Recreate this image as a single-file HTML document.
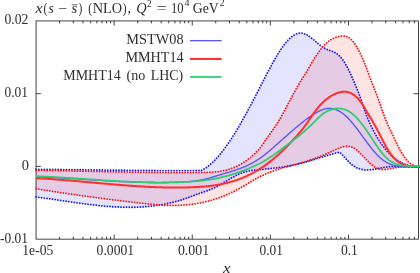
<!DOCTYPE html>
<html><head><meta charset="utf-8"><title>plot</title>
<style>
html,body{margin:0;padding:0;background:#fff;}
body{width:420px;height:273px;overflow:hidden;}
svg{display:block;}
text{font-family:"Liberation Serif",serif;font-size:14px;fill:#2e2e2e;}
</style></head><body>
<svg width="420" height="273" viewBox="0 0 420 273">
<rect x="0" y="0" width="420" height="273" fill="#ffffff"/>
<path d="M36.10,169.30 L37.10,169.31 L38.10,169.31 L39.10,169.32 L40.10,169.33 L41.10,169.34 L42.10,169.34 L43.10,169.35 L44.10,169.36 L45.10,169.37 L46.10,169.38 L47.10,169.39 L48.10,169.39 L49.10,169.40 L50.10,169.41 L51.10,169.42 L52.10,169.43 L53.10,169.44 L54.10,169.45 L55.10,169.46 L56.10,169.47 L57.10,169.48 L58.10,169.49 L59.10,169.50 L60.10,169.51 L61.10,169.52 L62.10,169.53 L63.10,169.55 L64.10,169.56 L65.10,169.57 L66.10,169.58 L67.10,169.59 L68.10,169.60 L69.10,169.61 L70.10,169.63 L71.10,169.64 L72.10,169.65 L73.10,169.66 L74.10,169.67 L75.10,169.69 L76.10,169.70 L77.10,169.71 L78.10,169.72 L79.10,169.73 L80.10,169.75 L81.10,169.76 L82.10,169.77 L83.10,169.78 L84.10,169.80 L85.10,169.81 L86.10,169.82 L87.10,169.83 L88.10,169.85 L89.10,169.86 L90.10,169.87 L91.10,169.88 L92.10,169.90 L93.10,169.91 L94.10,169.92 L95.10,169.93 L96.10,169.95 L97.10,169.96 L98.10,169.97 L99.10,169.99 L100.10,170.00 L101.10,170.01 L102.10,170.02 L103.10,170.04 L104.10,170.05 L105.10,170.06 L106.10,170.07 L107.10,170.09 L108.10,170.10 L109.10,170.11 L110.10,170.12 L111.10,170.13 L112.10,170.15 L113.10,170.16 L114.10,170.17 L115.10,170.18 L116.10,170.19 L117.10,170.20 L118.10,170.22 L119.10,170.23 L120.10,170.24 L121.10,170.25 L122.10,170.26 L123.10,170.27 L124.10,170.28 L125.10,170.29 L126.10,170.31 L127.10,170.32 L128.10,170.33 L129.10,170.34 L130.10,170.35 L131.10,170.36 L132.10,170.37 L133.10,170.38 L134.10,170.39 L135.10,170.40 L136.10,170.40 L137.10,170.41 L138.10,170.42 L139.10,170.43 L140.10,170.44 L141.10,170.45 L142.10,170.46 L143.10,170.47 L144.10,170.47 L145.10,170.48 L146.10,170.49 L147.10,170.50 L148.10,170.50 L149.10,170.51 L150.10,170.52 L151.10,170.52 L152.10,170.53 L153.10,170.54 L154.10,170.54 L155.10,170.55 L156.10,170.55 L157.10,170.56 L158.10,170.56 L159.10,170.57 L160.10,170.57 L161.10,170.58 L162.10,170.58 L163.10,170.58 L164.10,170.59 L165.10,170.59 L166.10,170.59 L167.10,170.60 L168.10,170.60 L169.10,170.60 L170.10,170.60 L171.10,170.60 L172.10,170.61 L173.10,170.61 L174.10,170.61 L175.10,170.61 L176.10,170.61 L177.10,170.61 L178.10,170.61 L179.10,170.61 L180.10,170.61 L181.10,170.60 L182.10,170.60 L183.10,170.60 L184.10,170.60 L185.10,170.59 L186.10,170.59 L187.10,170.59 L188.10,170.58 L189.10,170.58 L190.10,170.58 L191.10,170.57 L192.10,170.57 L193.10,170.56 L194.10,170.55 L195.10,170.55 L196.10,170.54 L197.10,170.53 L198.10,170.53 L199.10,170.52 L200.10,170.51 L201.10,170.50 L201.30,170.50 L202.30,169.99 L203.30,169.43 L204.30,168.83 L205.30,168.18 L206.30,167.50 L207.30,166.78 L208.30,166.02 L209.30,165.21 L210.30,164.37 L211.30,163.50 L212.30,162.58 L213.30,161.63 L214.30,160.64 L215.30,159.62 L216.30,158.56 L217.30,157.46 L218.30,156.34 L219.30,155.18 L220.30,153.98 L221.30,152.76 L222.30,151.50 L223.30,150.21 L224.30,148.89 L225.30,147.54 L226.30,146.16 L227.30,144.75 L228.30,143.32 L229.30,141.85 L230.30,140.36 L231.30,138.84 L232.30,137.30 L233.30,135.73 L234.30,134.13 L235.30,132.52 L236.30,130.87 L237.30,129.21 L238.30,127.52 L239.30,125.81 L240.30,124.08 L241.30,122.33 L242.30,120.56 L243.30,118.77 L244.30,116.97 L245.30,115.15 L246.30,113.32 L247.30,111.47 L248.30,109.61 L249.30,107.73 L250.30,105.85 L251.30,103.96 L252.30,102.05 L253.30,100.14 L254.30,98.22 L255.30,96.29 L256.30,94.36 L257.30,92.43 L258.30,90.49 L259.30,88.55 L260.30,86.60 L261.30,84.66 L262.30,82.71 L263.30,80.77 L264.30,78.83 L265.30,76.89 L266.30,74.96 L267.30,73.04 L268.30,71.13 L269.30,69.23 L270.30,67.35 L271.30,65.49 L272.30,63.66 L273.30,61.85 L274.30,60.08 L275.30,58.33 L276.30,56.62 L277.30,54.95 L278.30,53.32 L279.30,51.74 L280.30,50.20 L281.30,48.71 L282.30,47.28 L283.30,45.89 L284.30,44.57 L285.30,43.31 L286.30,42.10 L287.30,40.97 L288.30,39.90 L289.30,38.89 L290.30,37.96 L291.30,37.10 L292.30,36.32 L293.30,35.62 L294.30,35.00 L295.30,34.46 L296.30,34.01 L297.30,33.64 L298.30,33.36 L299.30,33.18 L300.30,33.09 L301.30,33.10 L302.30,33.21 L303.30,33.42 L304.30,33.72 L305.30,34.11 L306.30,34.58 L307.30,35.12 L308.30,35.73 L309.30,36.39 L310.30,37.11 L311.30,37.86 L312.30,38.65 L313.30,39.47 L314.30,40.30 L315.30,41.15 L316.30,42.00 L317.30,42.85 L318.30,43.69 L319.30,44.51 L320.30,45.31 L321.30,46.07 L322.30,46.79 L323.30,47.47 L324.30,48.09 L325.30,48.64 L326.30,49.13 L327.30,49.56 L328.30,49.96 L329.30,50.32 L330.30,50.67 L331.30,51.03 L332.30,51.40 L333.30,51.81 L334.30,52.26 L335.30,52.77 L336.30,53.36 L337.30,54.03 L338.30,54.82 L339.30,55.72 L340.30,56.75 L341.30,57.91 L342.30,59.20 L343.30,60.61 L344.30,62.13 L345.30,63.76 L346.30,65.50 L347.30,67.33 L348.30,69.26 L349.30,71.27 L350.30,73.36 L351.30,75.52 L352.30,77.73 L353.30,80.00 L354.30,82.31 L355.30,84.66 L356.30,87.05 L357.30,89.51 L358.30,92.05 L359.30,94.71 L360.30,97.49 L361.30,100.39 L362.30,103.37 L363.30,106.36 L364.30,109.29 L365.30,112.13 L366.30,114.81 L367.30,117.37 L368.30,119.79 L369.30,122.10 L370.30,124.30 L371.30,126.40 L372.30,128.41 L373.30,130.35 L374.30,132.21 L375.30,134.02 L376.30,135.76 L377.30,137.45 L378.30,139.08 L379.30,140.66 L380.30,142.18 L381.30,143.64 L382.30,145.05 L383.30,146.41 L384.30,147.72 L385.30,148.97 L386.30,150.18 L387.30,151.33 L388.30,152.43 L389.30,153.49 L390.30,154.49 L391.30,155.45 L392.30,156.36 L393.30,157.23 L394.30,158.05 L395.30,158.83 L396.30,159.56 L397.30,160.26 L398.30,160.91 L399.30,161.52 L400.30,162.09 L401.30,162.62 L402.30,163.11 L403.30,163.57 L404.30,163.99 L405.30,164.38 L406.30,164.73 L407.30,165.05 L408.30,165.34 L409.30,165.60 L410.30,165.82 L411.30,166.02 L412.30,166.19 L413.30,166.33 L414.30,166.44 L415.30,166.53 L416.30,166.60 L417.30,166.64 L418.30,166.66 L419.30,166.65 L420.30,166.63 L421.00,166.60 L421.00,166.60 L420.50,166.65 L419.50,166.74 L418.50,166.82 L417.50,166.87 L416.50,166.92 L415.50,166.95 L414.50,166.97 L413.50,166.98 L412.50,166.98 L411.50,166.97 L410.50,166.95 L409.50,166.93 L408.50,166.90 L407.50,166.87 L406.50,166.83 L405.50,166.79 L404.50,166.75 L403.50,166.71 L402.50,166.67 L401.50,166.63 L400.50,166.60 L399.50,166.57 L398.50,166.55 L397.50,166.53 L396.50,166.52 L395.50,166.52 L394.50,166.53 L393.50,166.55 L392.50,166.58 L391.50,166.62 L390.50,166.68 L389.50,166.75 L388.50,166.84 L387.50,166.95 L386.50,167.08 L385.50,167.22 L384.50,167.38 L383.50,167.55 L382.50,167.73 L381.50,167.93 L380.50,168.12 L379.50,168.32 L378.50,168.52 L377.50,168.71 L376.50,168.90 L375.50,169.08 L374.50,169.25 L373.50,169.41 L372.50,169.56 L371.50,169.68 L370.50,169.79 L369.50,169.87 L368.50,169.92 L367.50,169.95 L366.50,169.94 L365.50,169.90 L364.50,169.83 L363.50,169.71 L362.50,169.56 L361.50,169.36 L360.50,169.11 L359.50,168.82 L358.50,168.47 L357.50,168.07 L356.50,167.61 L355.50,167.10 L354.50,166.53 L353.50,165.89 L352.50,165.19 L351.50,164.42 L350.50,163.58 L349.50,162.67 L348.50,161.69 L347.50,160.64 L346.50,159.55 L345.50,158.44 L344.50,157.31 L343.50,156.20 L342.50,155.11 L341.50,154.07 L340.50,153.09 L339.50,152.20 L339.10,152.30 L338.10,152.54 L337.10,152.79 L336.10,153.05 L335.10,153.31 L334.10,153.58 L333.10,153.86 L332.10,154.13 L331.10,154.42 L330.10,154.70 L329.10,154.99 L328.10,155.29 L327.10,155.58 L326.10,155.88 L325.10,156.18 L324.10,156.49 L323.10,156.79 L322.10,157.10 L321.10,157.41 L320.10,157.72 L319.10,158.02 L318.10,158.33 L317.10,158.64 L316.10,158.95 L315.10,159.26 L314.10,159.57 L313.10,159.87 L312.10,160.18 L311.10,160.48 L310.10,160.78 L309.10,161.07 L308.10,161.37 L307.10,161.66 L306.10,161.94 L305.10,162.22 L304.10,162.50 L303.10,162.77 L302.10,163.04 L301.10,163.31 L300.10,163.56 L299.10,163.82 L298.10,164.06 L297.10,164.30 L296.10,164.53 L295.10,164.76 L294.10,164.97 L293.10,165.18 L292.10,165.39 L291.10,165.58 L290.10,165.77 L289.10,165.96 L288.10,166.13 L287.10,166.31 L286.10,166.47 L285.10,166.63 L284.10,166.79 L283.10,166.94 L282.10,167.09 L281.10,167.23 L280.10,167.37 L279.10,167.50 L278.10,167.63 L277.10,167.76 L276.10,167.88 L275.10,168.00 L274.10,168.12 L273.10,168.24 L272.10,168.35 L271.10,168.46 L270.10,168.57 L269.10,168.68 L268.10,168.78 L267.10,168.89 L266.10,168.99 L265.10,169.09 L264.10,169.20 L263.10,169.30 L262.10,169.40 L261.10,169.51 L260.10,169.61 L259.10,169.71 L258.10,169.82 L257.10,169.93 L256.10,170.03 L255.10,170.14 L254.10,170.26 L253.10,170.37 L252.10,170.50 L251.10,170.64 L250.10,170.79 L249.10,170.96 L248.10,171.15 L247.10,171.36 L246.10,171.60 L245.10,171.86 L244.10,172.14 L243.10,172.46 L242.10,172.81 L241.10,173.19 L240.10,173.59 L239.10,174.03 L238.10,174.50 L237.10,174.98 L236.10,175.50 L235.10,176.02 L234.10,176.57 L233.10,177.13 L232.10,177.70 L231.10,178.28 L230.10,178.86 L229.10,179.45 L228.10,180.05 L227.10,180.64 L226.10,181.23 L225.10,181.82 L224.10,182.41 L223.10,183.00 L222.10,183.58 L221.10,184.15 L220.10,184.72 L219.10,185.28 L218.10,185.82 L217.10,186.36 L216.10,186.88 L215.10,187.38 L214.10,187.87 L213.10,188.34 L212.10,188.79 L211.10,189.23 L210.10,189.64 L209.10,190.03 L208.10,190.41 L207.10,190.77 L206.10,191.12 L205.10,191.47 L204.10,191.81 L203.10,192.15 L202.10,192.49 L201.10,192.84 L200.10,193.20 L199.10,193.55 L198.10,193.92 L197.10,194.29 L196.10,194.66 L195.10,195.03 L194.10,195.41 L193.10,195.78 L192.10,196.16 L191.10,196.53 L190.10,196.91 L189.10,197.27 L188.10,197.64 L187.10,198.00 L186.10,198.35 L185.10,198.70 L184.10,199.03 L183.10,199.36 L182.10,199.69 L181.10,200.00 L180.10,200.31 L179.10,200.61 L178.10,200.90 L177.10,201.19 L176.10,201.46 L175.10,201.73 L174.10,202.00 L173.10,202.25 L172.10,202.50 L171.10,202.74 L170.10,202.97 L169.10,203.20 L168.10,203.42 L167.10,203.63 L166.10,203.84 L165.10,204.04 L164.10,204.23 L163.10,204.42 L162.10,204.60 L161.10,204.77 L160.10,204.94 L159.10,205.10 L158.10,205.25 L157.10,205.40 L156.10,205.54 L155.10,205.68 L154.10,205.81 L153.10,205.93 L152.10,206.05 L151.10,206.16 L150.10,206.27 L149.10,206.37 L148.10,206.47 L147.10,206.56 L146.10,206.64 L145.10,206.72 L144.10,206.79 L143.10,206.86 L142.10,206.92 L141.10,206.98 L140.10,207.03 L139.10,207.08 L138.10,207.12 L137.10,207.16 L136.10,207.19 L135.10,207.22 L134.10,207.24 L133.10,207.26 L132.10,207.28 L131.10,207.28 L130.10,207.29 L129.10,207.29 L128.10,207.29 L127.10,207.28 L126.10,207.27 L125.10,207.25 L124.10,207.23 L123.10,207.20 L122.10,207.17 L121.10,207.14 L120.10,207.11 L119.10,207.07 L118.10,207.02 L117.10,206.97 L116.10,206.92 L115.10,206.87 L114.10,206.81 L113.10,206.75 L112.10,206.69 L111.10,206.62 L110.10,206.55 L109.10,206.47 L108.10,206.40 L107.10,206.32 L106.10,206.23 L105.10,206.15 L104.10,206.06 L103.10,205.97 L102.10,205.87 L101.10,205.77 L100.10,205.68 L99.10,205.57 L98.10,205.47 L97.10,205.36 L96.10,205.25 L95.10,205.14 L94.10,205.03 L93.10,204.92 L92.10,204.80 L91.10,204.68 L90.10,204.56 L89.10,204.43 L88.10,204.31 L87.10,204.18 L86.10,204.06 L85.10,203.93 L84.10,203.80 L83.10,203.66 L82.10,203.53 L81.10,203.39 L80.10,203.26 L79.10,203.12 L78.10,202.98 L77.10,202.84 L76.10,202.70 L75.10,202.56 L74.10,202.42 L73.10,202.27 L72.10,202.13 L71.10,201.98 L70.10,201.84 L69.10,201.69 L68.10,201.55 L67.10,201.40 L66.10,201.25 L65.10,201.11 L64.10,200.96 L63.10,200.81 L62.10,200.66 L61.10,200.51 L60.10,200.37 L59.10,200.22 L58.10,200.07 L57.10,199.92 L56.10,199.78 L55.10,199.63 L54.10,199.48 L53.10,199.34 L52.10,199.19 L51.10,199.05 L50.10,198.91 L49.10,198.76 L48.10,198.62 L47.10,198.48 L46.10,198.34 L45.10,198.20 L44.10,198.06 L43.10,197.92 L42.10,197.79 L41.10,197.65 L40.10,197.52 L39.10,197.39 L38.10,197.26 L37.10,197.13 L36.10,197.00 Z" fill="#0000ff" fill-opacity="0.105" stroke="none"/>
<path d="M36.10,170.30 L37.10,170.31 L38.10,170.32 L39.10,170.34 L40.10,170.35 L41.10,170.36 L42.10,170.38 L43.10,170.39 L44.10,170.40 L45.10,170.42 L46.10,170.43 L47.10,170.45 L48.10,170.46 L49.10,170.48 L50.10,170.49 L51.10,170.51 L52.10,170.53 L53.10,170.54 L54.10,170.56 L55.10,170.58 L56.10,170.59 L57.10,170.61 L58.10,170.63 L59.10,170.65 L60.10,170.67 L61.10,170.69 L62.10,170.70 L63.10,170.72 L64.10,170.74 L65.10,170.76 L66.10,170.78 L67.10,170.80 L68.10,170.82 L69.10,170.84 L70.10,170.86 L71.10,170.88 L72.10,170.90 L73.10,170.92 L74.10,170.94 L75.10,170.97 L76.10,170.99 L77.10,171.01 L78.10,171.03 L79.10,171.05 L80.10,171.07 L81.10,171.09 L82.10,171.12 L83.10,171.14 L84.10,171.16 L85.10,171.18 L86.10,171.20 L87.10,171.23 L88.10,171.25 L89.10,171.27 L90.10,171.29 L91.10,171.32 L92.10,171.34 L93.10,171.36 L94.10,171.38 L95.10,171.40 L96.10,171.43 L97.10,171.45 L98.10,171.47 L99.10,171.49 L100.10,171.52 L101.10,171.54 L102.10,171.56 L103.10,171.58 L104.10,171.60 L105.10,171.63 L106.10,171.65 L107.10,171.67 L108.10,171.69 L109.10,171.71 L110.10,171.74 L111.10,171.76 L112.10,171.78 L113.10,171.80 L114.10,171.82 L115.10,171.84 L116.10,171.86 L117.10,171.89 L118.10,171.91 L119.10,171.93 L120.10,171.95 L121.10,171.97 L122.10,171.99 L123.10,172.01 L124.10,172.03 L125.10,172.05 L126.10,172.07 L127.10,172.09 L128.10,172.10 L129.10,172.12 L130.10,172.14 L131.10,172.16 L132.10,172.18 L133.10,172.20 L134.10,172.21 L135.10,172.23 L136.10,172.25 L137.10,172.27 L138.10,172.28 L139.10,172.30 L140.10,172.32 L141.10,172.33 L142.10,172.35 L143.10,172.36 L144.10,172.38 L145.10,172.39 L146.10,172.41 L147.10,172.42 L148.10,172.43 L149.10,172.45 L150.10,172.46 L151.10,172.47 L152.10,172.49 L153.10,172.50 L154.10,172.51 L155.10,172.52 L156.10,172.53 L157.10,172.54 L158.10,172.55 L159.10,172.56 L160.10,172.57 L161.10,172.58 L162.10,172.59 L163.10,172.60 L164.10,172.60 L165.10,172.61 L166.10,172.62 L167.10,172.62 L168.10,172.63 L169.10,172.64 L170.10,172.64 L171.10,172.64 L172.10,172.65 L173.10,172.65 L174.10,172.66 L175.10,172.66 L176.10,172.66 L177.10,172.66 L178.10,172.66 L179.10,172.66 L180.10,172.66 L181.10,172.66 L182.10,172.66 L183.10,172.66 L184.10,172.66 L185.10,172.65 L186.10,172.65 L187.10,172.65 L188.10,172.64 L189.10,172.64 L190.10,172.63 L191.10,172.63 L192.10,172.62 L193.10,172.61 L194.10,172.60 L195.10,172.60 L196.10,172.59 L197.10,172.58 L198.10,172.57 L199.10,172.55 L200.10,172.54 L201.10,172.53 L202.10,172.52 L203.10,172.50 L204.10,172.48 L205.10,172.46 L206.10,172.43 L207.10,172.40 L208.10,172.37 L209.10,172.33 L210.10,172.28 L211.10,172.22 L212.10,172.16 L213.10,172.09 L214.10,172.01 L215.10,171.92 L216.10,171.82 L217.10,171.70 L218.10,171.58 L219.10,171.44 L220.10,171.30 L221.10,171.13 L222.10,170.96 L223.10,170.77 L224.10,170.56 L225.10,170.34 L226.10,170.10 L227.10,169.84 L228.10,169.56 L229.10,169.27 L230.10,168.96 L231.10,168.62 L232.10,168.27 L233.10,167.89 L234.10,167.49 L235.10,167.07 L236.10,166.63 L237.10,166.16 L238.10,165.67 L239.10,165.16 L240.10,164.61 L241.10,164.05 L242.10,163.45 L243.10,162.84 L244.10,162.19 L245.10,161.52 L246.10,160.82 L247.10,160.10 L248.10,159.35 L249.10,158.57 L250.10,157.76 L251.10,156.92 L252.10,156.06 L253.10,155.17 L254.10,154.25 L255.10,153.30 L256.10,152.32 L257.10,151.30 L258.10,150.23 L259.10,149.10 L260.10,147.90 L261.10,146.62 L262.10,145.25 L263.10,143.78 L264.10,142.28 L265.10,140.80 L266.10,139.34 L267.10,137.92 L268.10,136.51 L269.10,135.12 L270.10,133.74 L271.10,132.35 L272.10,130.95 L273.10,129.53 L274.10,128.09 L275.10,126.62 L276.10,125.10 L277.10,123.54 L278.10,121.93 L279.10,120.26 L280.10,118.56 L281.10,116.81 L282.10,115.03 L283.10,113.21 L284.10,111.37 L285.10,109.51 L286.10,107.64 L287.10,105.74 L288.10,103.84 L289.10,101.94 L290.10,100.04 L291.10,98.14 L292.10,96.26 L293.10,94.38 L294.10,92.53 L295.10,90.70 L296.10,88.89 L297.10,87.12 L298.10,85.39 L299.10,83.69 L300.10,82.04 L301.10,80.43 L302.10,78.84 L303.10,77.27 L304.10,75.70 L305.10,74.11 L306.10,72.50 L307.10,70.85 L308.10,69.15 L309.10,67.43 L310.10,65.70 L311.10,63.98 L312.10,62.30 L313.10,60.65 L314.10,59.04 L315.10,57.47 L316.10,55.93 L317.10,54.43 L318.10,52.97 L319.10,51.56 L320.10,50.20 L321.10,48.89 L322.10,47.64 L323.10,46.46 L324.10,45.34 L325.10,44.31 L326.10,43.34 L327.10,42.46 L328.10,41.64 L329.10,40.89 L330.10,40.21 L331.10,39.59 L332.10,39.02 L333.10,38.51 L334.10,38.06 L335.10,37.65 L336.10,37.29 L337.10,36.97 L338.10,36.68 L339.10,36.44 L340.10,36.23 L341.10,36.08 L342.10,35.98 L343.10,35.95 L344.10,36.01 L345.10,36.15 L346.10,36.38 L347.10,36.72 L348.10,37.18 L349.10,37.77 L350.10,38.48 L351.10,39.34 L352.10,40.34 L353.10,41.48 L354.10,42.75 L355.10,44.15 L356.10,45.68 L357.10,47.33 L358.10,49.11 L359.10,50.99 L360.10,52.99 L361.10,55.10 L362.10,57.31 L363.10,59.62 L364.10,62.03 L365.10,64.53 L366.10,67.11 L367.10,69.76 L368.10,72.45 L369.10,75.14 L370.10,77.81 L371.10,80.45 L372.10,83.02 L373.10,85.56 L374.10,88.07 L375.10,90.59 L376.10,93.14 L377.10,95.74 L378.10,98.41 L379.10,101.18 L380.10,104.03 L381.10,106.93 L382.10,109.84 L383.10,112.71 L384.10,115.50 L385.10,118.16 L386.10,120.66 L387.10,123.02 L388.10,125.25 L389.10,127.37 L390.10,129.44 L391.10,131.49 L392.10,133.56 L393.10,135.68 L394.10,137.83 L395.10,139.99 L396.10,142.13 L397.10,144.23 L398.10,146.26 L399.10,148.23 L400.10,150.11 L401.10,151.89 L402.10,153.58 L403.10,155.15 L404.10,156.62 L405.10,157.98 L406.10,159.23 L407.10,160.38 L408.10,161.44 L409.10,162.39 L410.10,163.24 L411.10,163.99 L412.10,164.65 L413.10,165.22 L414.10,165.70 L415.10,166.08 L416.10,166.38 L417.10,166.59 L418.10,166.71 L419.10,166.75 L420.10,166.71 L421.00,166.60 L421.00,166.60 L420.10,166.60 L419.10,166.59 L418.10,166.58 L417.10,166.57 L416.10,166.56 L415.10,166.56 L414.10,166.55 L413.10,166.55 L412.10,166.55 L411.10,166.56 L410.10,166.57 L409.10,166.58 L408.10,166.60 L407.10,166.63 L406.10,166.67 L405.10,166.72 L404.10,166.78 L403.10,166.84 L402.10,166.92 L401.10,167.01 L400.10,167.12 L399.10,167.23 L398.10,167.37 L397.10,167.51 L396.10,167.67 L395.10,167.84 L394.10,168.02 L393.10,168.21 L392.10,168.39 L391.10,168.58 L390.10,168.77 L389.10,168.94 L388.10,169.11 L387.10,169.26 L386.10,169.39 L385.10,169.48 L384.10,169.54 L383.10,169.55 L382.10,169.51 L381.10,169.42 L380.10,169.26 L379.10,169.03 L378.10,168.72 L377.10,168.32 L376.10,167.84 L375.10,167.27 L374.10,166.61 L373.10,165.88 L372.10,165.08 L371.10,164.22 L370.10,163.30 L369.10,162.35 L368.10,161.36 L367.10,160.34 L366.10,159.30 L365.10,158.25 L364.10,157.20 L363.10,156.15 L362.10,155.12 L361.10,154.10 L360.10,153.11 L359.10,152.16 L358.10,151.26 L357.10,150.40 L356.10,149.61 L355.10,148.88 L354.10,148.23 L353.10,147.67 L352.10,147.19 L351.10,146.82 L350.10,146.54 L349.10,146.36 L348.10,146.27 L347.10,146.25 L346.10,146.30 L345.10,146.42 L344.10,146.60 L343.10,146.84 L342.10,147.11 L341.10,147.43 L340.10,147.78 L339.10,148.16 L338.10,148.56 L337.10,148.98 L336.10,149.42 L335.10,149.87 L334.10,150.33 L333.10,150.79 L332.10,151.26 L331.10,151.72 L330.10,152.18 L329.10,152.63 L328.10,153.08 L327.10,153.52 L326.10,153.96 L325.10,154.39 L324.10,154.82 L323.10,155.24 L322.10,155.65 L321.10,156.06 L320.10,156.46 L319.10,156.86 L318.10,157.25 L317.10,157.63 L316.10,158.00 L315.10,158.37 L314.10,158.73 L313.10,159.08 L312.10,159.43 L311.10,159.76 L310.10,160.09 L309.10,160.42 L308.10,160.73 L307.10,161.04 L306.10,161.35 L305.10,161.65 L304.10,161.94 L303.10,162.24 L302.10,162.52 L301.10,162.81 L300.10,163.09 L299.10,163.37 L298.10,163.64 L297.10,163.92 L296.10,164.19 L295.10,164.46 L294.10,164.74 L293.10,165.01 L292.10,165.28 L291.10,165.55 L290.10,165.83 L289.10,166.10 L288.10,166.38 L287.10,166.66 L286.10,166.94 L285.10,167.23 L284.10,167.52 L283.10,167.81 L282.10,168.11 L281.10,168.41 L280.10,168.72 L279.10,169.03 L278.10,169.35 L277.10,169.67 L276.10,170.01 L275.10,170.35 L274.10,170.69 L273.10,171.05 L272.10,171.41 L271.10,171.79 L270.10,172.17 L269.10,172.56 L268.10,172.96 L267.10,173.37 L266.10,173.80 L265.10,174.23 L264.10,174.68 L263.10,175.13 L262.10,175.61 L261.10,176.09 L260.10,176.59 L259.10,177.10 L258.10,177.62 L257.10,178.16 L256.10,178.71 L255.10,179.28 L254.10,179.85 L253.10,180.44 L252.10,181.03 L251.10,181.62 L250.10,182.22 L249.10,182.83 L248.10,183.43 L247.10,184.03 L246.10,184.63 L245.10,185.23 L244.10,185.82 L243.10,186.40 L242.10,186.98 L241.10,187.55 L240.10,188.11 L239.10,188.66 L238.10,189.20 L237.10,189.74 L236.10,190.26 L235.10,190.78 L234.10,191.29 L233.10,191.79 L232.10,192.28 L231.10,192.76 L230.10,193.23 L229.10,193.69 L228.10,194.14 L227.10,194.59 L226.10,195.02 L225.10,195.44 L224.10,195.85 L223.10,196.26 L222.10,196.65 L221.10,197.03 L220.10,197.41 L219.10,197.77 L218.10,198.13 L217.10,198.47 L216.10,198.81 L215.10,199.13 L214.10,199.45 L213.10,199.76 L212.10,200.06 L211.10,200.35 L210.10,200.63 L209.10,200.90 L208.10,201.16 L207.10,201.42 L206.10,201.66 L205.10,201.90 L204.10,202.13 L203.10,202.35 L202.10,202.56 L201.10,202.77 L200.10,202.96 L199.10,203.15 L198.10,203.33 L197.10,203.50 L196.10,203.66 L195.10,203.82 L194.10,203.97 L193.10,204.11 L192.10,204.24 L191.10,204.37 L190.10,204.49 L189.10,204.60 L188.10,204.70 L187.10,204.80 L186.10,204.89 L185.10,204.97 L184.10,205.04 L183.10,205.11 L182.10,205.18 L181.10,205.23 L180.10,205.28 L179.10,205.32 L178.10,205.36 L177.10,205.39 L176.10,205.41 L175.10,205.43 L174.10,205.44 L173.10,205.44 L172.10,205.44 L171.10,205.43 L170.10,205.42 L169.10,205.40 L168.10,205.37 L167.10,205.34 L166.10,205.31 L165.10,205.27 L164.10,205.23 L163.10,205.18 L162.10,205.12 L161.10,205.07 L160.10,205.00 L159.10,204.94 L158.10,204.87 L157.10,204.79 L156.10,204.71 L155.10,204.63 L154.10,204.55 L153.10,204.46 L152.10,204.37 L151.10,204.28 L150.10,204.18 L149.10,204.08 L148.10,203.98 L147.10,203.88 L146.10,203.77 L145.10,203.66 L144.10,203.56 L143.10,203.44 L142.10,203.33 L141.10,203.22 L140.10,203.10 L139.10,202.99 L138.10,202.87 L137.10,202.75 L136.10,202.63 L135.10,202.52 L134.10,202.40 L133.10,202.28 L132.10,202.16 L131.10,202.04 L130.10,201.92 L129.10,201.80 L128.10,201.68 L127.10,201.56 L126.10,201.44 L125.10,201.31 L124.10,201.19 L123.10,201.07 L122.10,200.95 L121.10,200.83 L120.10,200.70 L119.10,200.58 L118.10,200.46 L117.10,200.33 L116.10,200.21 L115.10,200.08 L114.10,199.96 L113.10,199.83 L112.10,199.71 L111.10,199.58 L110.10,199.45 L109.10,199.33 L108.10,199.20 L107.10,199.07 L106.10,198.94 L105.10,198.81 L104.10,198.69 L103.10,198.56 L102.10,198.43 L101.10,198.30 L100.10,198.17 L99.10,198.03 L98.10,197.90 L97.10,197.77 L96.10,197.64 L95.10,197.51 L94.10,197.37 L93.10,197.24 L92.10,197.11 L91.10,196.97 L90.10,196.84 L89.10,196.70 L88.10,196.57 L87.10,196.43 L86.10,196.29 L85.10,196.16 L84.10,196.02 L83.10,195.88 L82.10,195.74 L81.10,195.60 L80.10,195.46 L79.10,195.32 L78.10,195.18 L77.10,195.04 L76.10,194.90 L75.10,194.76 L74.10,194.61 L73.10,194.47 L72.10,194.33 L71.10,194.18 L70.10,194.04 L69.10,193.89 L68.10,193.74 L67.10,193.60 L66.10,193.45 L65.10,193.30 L64.10,193.15 L63.10,193.01 L62.10,192.86 L61.10,192.71 L60.10,192.55 L59.10,192.40 L58.10,192.25 L57.10,192.10 L56.10,191.95 L55.10,191.79 L54.10,191.64 L53.10,191.48 L52.10,191.33 L51.10,191.17 L50.10,191.01 L49.10,190.86 L48.10,190.70 L47.10,190.54 L46.10,190.38 L45.10,190.22 L44.10,190.06 L43.10,189.90 L42.10,189.74 L41.10,189.57 L40.10,189.41 L39.10,189.25 L38.10,189.08 L37.10,188.92 L36.10,188.75 Z" fill="#ff0000" fill-opacity="0.105" stroke="none"/>
<path d="M59.55,239.15 v-2.40 M59.55,20.95 v2.40 M73.30,239.15 v-2.40 M73.30,20.95 v2.40 M83.06,239.15 v-2.40 M83.06,20.95 v2.40 M90.63,239.15 v-2.40 M90.63,20.95 v2.40 M96.81,239.15 v-2.40 M96.81,20.95 v2.40 M102.04,239.15 v-2.40 M102.04,20.95 v2.40 M106.57,239.15 v-2.40 M106.57,20.95 v2.40 M110.57,239.15 v-2.40 M110.57,20.95 v2.40 M114.14,239.15 v-4.60 M114.14,20.95 v4.60 M137.65,239.15 v-2.40 M137.65,20.95 v2.40 M151.40,239.15 v-2.40 M151.40,20.95 v2.40 M161.16,239.15 v-2.40 M161.16,20.95 v2.40 M168.73,239.15 v-2.40 M168.73,20.95 v2.40 M174.91,239.15 v-2.40 M174.91,20.95 v2.40 M180.14,239.15 v-2.40 M180.14,20.95 v2.40 M184.67,239.15 v-2.40 M184.67,20.95 v2.40 M188.67,239.15 v-2.40 M188.67,20.95 v2.40 M192.24,239.15 v-4.60 M192.24,20.95 v4.60 M215.75,239.15 v-2.40 M215.75,20.95 v2.40 M229.50,239.15 v-2.40 M229.50,20.95 v2.40 M239.26,239.15 v-2.40 M239.26,20.95 v2.40 M246.83,239.15 v-2.40 M246.83,20.95 v2.40 M253.01,239.15 v-2.40 M253.01,20.95 v2.40 M258.24,239.15 v-2.40 M258.24,20.95 v2.40 M262.77,239.15 v-2.40 M262.77,20.95 v2.40 M266.77,239.15 v-2.40 M266.77,20.95 v2.40 M270.34,239.15 v-4.60 M270.34,20.95 v4.60 M293.85,239.15 v-2.40 M293.85,20.95 v2.40 M307.60,239.15 v-2.40 M307.60,20.95 v2.40 M317.36,239.15 v-2.40 M317.36,20.95 v2.40 M324.93,239.15 v-2.40 M324.93,20.95 v2.40 M331.11,239.15 v-2.40 M331.11,20.95 v2.40 M336.34,239.15 v-2.40 M336.34,20.95 v2.40 M340.87,239.15 v-2.40 M340.87,20.95 v2.40 M344.87,239.15 v-2.40 M344.87,20.95 v2.40 M348.44,239.15 v-4.60 M348.44,20.95 v4.60 M371.95,239.15 v-2.40 M371.95,20.95 v2.40 M385.70,239.15 v-2.40 M385.70,20.95 v2.40 M395.46,239.15 v-2.40 M395.46,20.95 v2.40 M403.03,239.15 v-2.40 M403.03,20.95 v2.40 M409.21,239.15 v-2.40 M409.21,20.95 v2.40 M414.44,239.15 v-2.40 M414.44,20.95 v2.40 M36.04,93.68 h4.8 M418.45,93.68 h-4.8 M36.04,166.42 h4.8 M418.45,166.42 h-4.8" stroke="#111111" stroke-width="0.8" fill="none"/>
<rect x="36.04" y="20.95" width="382.41" height="218.20" fill="none" stroke="#111111" stroke-width="0.78"/>
<path d="M36.10,169.30 L37.10,169.31 L38.10,169.31 L39.10,169.32 L40.10,169.33 L41.10,169.34 L42.10,169.34 L43.10,169.35 L44.10,169.36 L45.10,169.37 L46.10,169.38 L47.10,169.39 L48.10,169.39 L49.10,169.40 L50.10,169.41 L51.10,169.42 L52.10,169.43 L53.10,169.44 L54.10,169.45 L55.10,169.46 L56.10,169.47 L57.10,169.48 L58.10,169.49 L59.10,169.50 L60.10,169.51 L61.10,169.52 L62.10,169.53 L63.10,169.55 L64.10,169.56 L65.10,169.57 L66.10,169.58 L67.10,169.59 L68.10,169.60 L69.10,169.61 L70.10,169.63 L71.10,169.64 L72.10,169.65 L73.10,169.66 L74.10,169.67 L75.10,169.69 L76.10,169.70 L77.10,169.71 L78.10,169.72 L79.10,169.73 L80.10,169.75 L81.10,169.76 L82.10,169.77 L83.10,169.78 L84.10,169.80 L85.10,169.81 L86.10,169.82 L87.10,169.83 L88.10,169.85 L89.10,169.86 L90.10,169.87 L91.10,169.88 L92.10,169.90 L93.10,169.91 L94.10,169.92 L95.10,169.93 L96.10,169.95 L97.10,169.96 L98.10,169.97 L99.10,169.99 L100.10,170.00 L101.10,170.01 L102.10,170.02 L103.10,170.04 L104.10,170.05 L105.10,170.06 L106.10,170.07 L107.10,170.09 L108.10,170.10 L109.10,170.11 L110.10,170.12 L111.10,170.13 L112.10,170.15 L113.10,170.16 L114.10,170.17 L115.10,170.18 L116.10,170.19 L117.10,170.20 L118.10,170.22 L119.10,170.23 L120.10,170.24 L121.10,170.25 L122.10,170.26 L123.10,170.27 L124.10,170.28 L125.10,170.29 L126.10,170.31 L127.10,170.32 L128.10,170.33 L129.10,170.34 L130.10,170.35 L131.10,170.36 L132.10,170.37 L133.10,170.38 L134.10,170.39 L135.10,170.40 L136.10,170.40 L137.10,170.41 L138.10,170.42 L139.10,170.43 L140.10,170.44 L141.10,170.45 L142.10,170.46 L143.10,170.47 L144.10,170.47 L145.10,170.48 L146.10,170.49 L147.10,170.50 L148.10,170.50 L149.10,170.51 L150.10,170.52 L151.10,170.52 L152.10,170.53 L153.10,170.54 L154.10,170.54 L155.10,170.55 L156.10,170.55 L157.10,170.56 L158.10,170.56 L159.10,170.57 L160.10,170.57 L161.10,170.58 L162.10,170.58 L163.10,170.58 L164.10,170.59 L165.10,170.59 L166.10,170.59 L167.10,170.60 L168.10,170.60 L169.10,170.60 L170.10,170.60 L171.10,170.60 L172.10,170.61 L173.10,170.61 L174.10,170.61 L175.10,170.61 L176.10,170.61 L177.10,170.61 L178.10,170.61 L179.10,170.61 L180.10,170.61 L181.10,170.60 L182.10,170.60 L183.10,170.60 L184.10,170.60 L185.10,170.59 L186.10,170.59 L187.10,170.59 L188.10,170.58 L189.10,170.58 L190.10,170.58 L191.10,170.57 L192.10,170.57 L193.10,170.56 L194.10,170.55 L195.10,170.55 L196.10,170.54 L197.10,170.53 L198.10,170.53 L199.10,170.52 L200.10,170.51 L201.10,170.50 L201.30,170.50 L202.30,169.99 L203.30,169.43 L204.30,168.83 L205.30,168.18 L206.30,167.50 L207.30,166.78 L208.30,166.02 L209.30,165.21 L210.30,164.37 L211.30,163.50 L212.30,162.58 L213.30,161.63 L214.30,160.64 L215.30,159.62 L216.30,158.56 L217.30,157.46 L218.30,156.34 L219.30,155.18 L220.30,153.98 L221.30,152.76 L222.30,151.50 L223.30,150.21 L224.30,148.89 L225.30,147.54 L226.30,146.16 L227.30,144.75 L228.30,143.32 L229.30,141.85 L230.30,140.36 L231.30,138.84 L232.30,137.30 L233.30,135.73 L234.30,134.13 L235.30,132.52 L236.30,130.87 L237.30,129.21 L238.30,127.52 L239.30,125.81 L240.30,124.08 L241.30,122.33 L242.30,120.56 L243.30,118.77 L244.30,116.97 L245.30,115.15 L246.30,113.32 L247.30,111.47 L248.30,109.61 L249.30,107.73 L250.30,105.85 L251.30,103.96 L252.30,102.05 L253.30,100.14 L254.30,98.22 L255.30,96.29 L256.30,94.36 L257.30,92.43 L258.30,90.49 L259.30,88.55 L260.30,86.60 L261.30,84.66 L262.30,82.71 L263.30,80.77 L264.30,78.83 L265.30,76.89 L266.30,74.96 L267.30,73.04 L268.30,71.13 L269.30,69.23 L270.30,67.35 L271.30,65.49 L272.30,63.66 L273.30,61.85 L274.30,60.08 L275.30,58.33 L276.30,56.62 L277.30,54.95 L278.30,53.32 L279.30,51.74 L280.30,50.20 L281.30,48.71 L282.30,47.28 L283.30,45.89 L284.30,44.57 L285.30,43.31 L286.30,42.10 L287.30,40.97 L288.30,39.90 L289.30,38.89 L290.30,37.96 L291.30,37.10 L292.30,36.32 L293.30,35.62 L294.30,35.00 L295.30,34.46 L296.30,34.01 L297.30,33.64 L298.30,33.36 L299.30,33.18 L300.30,33.09 L301.30,33.10 L302.30,33.21 L303.30,33.42 L304.30,33.72 L305.30,34.11 L306.30,34.58 L307.30,35.12 L308.30,35.73 L309.30,36.39 L310.30,37.11 L311.30,37.86 L312.30,38.65 L313.30,39.47 L314.30,40.30 L315.30,41.15 L316.30,42.00 L317.30,42.85 L318.30,43.69 L319.30,44.51 L320.30,45.31 L321.30,46.07 L322.30,46.79 L323.30,47.47 L324.30,48.09 L325.30,48.64 L326.30,49.13 L327.30,49.56 L328.30,49.96 L329.30,50.32 L330.30,50.67 L331.30,51.03 L332.30,51.40 L333.30,51.81 L334.30,52.26 L335.30,52.77 L336.30,53.36 L337.30,54.03 L338.30,54.82 L339.30,55.72 L340.30,56.75 L341.30,57.91 L342.30,59.20 L343.30,60.61 L344.30,62.13 L345.30,63.76 L346.30,65.50 L347.30,67.33 L348.30,69.26 L349.30,71.27 L350.30,73.36 L351.30,75.52 L352.30,77.73 L353.30,80.00 L354.30,82.31 L355.30,84.66 L356.30,87.05 L357.30,89.51 L358.30,92.05 L359.30,94.71 L360.30,97.49 L361.30,100.39 L362.30,103.37 L363.30,106.36 L364.30,109.29 L365.30,112.13 L366.30,114.81 L367.30,117.37 L368.30,119.79 L369.30,122.10 L370.30,124.30 L371.30,126.40 L372.30,128.41 L373.30,130.35 L374.30,132.21 L375.30,134.02 L376.30,135.76 L377.30,137.45 L378.30,139.08 L379.30,140.66 L380.30,142.18 L381.30,143.64 L382.30,145.05 L383.30,146.41 L384.30,147.72 L385.30,148.97 L386.30,150.18 L387.30,151.33 L388.30,152.43 L389.30,153.49 L390.30,154.49 L391.30,155.45 L392.30,156.36 L393.30,157.23 L394.30,158.05 L395.30,158.83 L396.30,159.56 L397.30,160.26 L398.30,160.91 L399.30,161.52 L400.30,162.09 L401.30,162.62 L402.30,163.11 L403.30,163.57 L404.30,163.99 L405.30,164.38 L406.30,164.73 L407.30,165.05 L408.30,165.34 L409.30,165.60 L410.30,165.82 L411.30,166.02 L412.30,166.19 L413.30,166.33 L414.30,166.44 L415.30,166.53 L416.30,166.60 L417.30,166.64 L418.30,166.66 L419.30,166.65 L420.30,166.63 L421.00,166.60" stroke="#1818f0" fill="none" stroke-width="1.85" stroke-linecap="round" stroke-dasharray="0.01 2.75"/>
<path d="M36.10,197.00 L37.10,197.13 L38.10,197.26 L39.10,197.39 L40.10,197.52 L41.10,197.65 L42.10,197.79 L43.10,197.92 L44.10,198.06 L45.10,198.20 L46.10,198.34 L47.10,198.48 L48.10,198.62 L49.10,198.76 L50.10,198.91 L51.10,199.05 L52.10,199.19 L53.10,199.34 L54.10,199.48 L55.10,199.63 L56.10,199.78 L57.10,199.92 L58.10,200.07 L59.10,200.22 L60.10,200.37 L61.10,200.51 L62.10,200.66 L63.10,200.81 L64.10,200.96 L65.10,201.11 L66.10,201.25 L67.10,201.40 L68.10,201.55 L69.10,201.69 L70.10,201.84 L71.10,201.98 L72.10,202.13 L73.10,202.27 L74.10,202.42 L75.10,202.56 L76.10,202.70 L77.10,202.84 L78.10,202.98 L79.10,203.12 L80.10,203.26 L81.10,203.39 L82.10,203.53 L83.10,203.66 L84.10,203.80 L85.10,203.93 L86.10,204.06 L87.10,204.18 L88.10,204.31 L89.10,204.43 L90.10,204.56 L91.10,204.68 L92.10,204.80 L93.10,204.92 L94.10,205.03 L95.10,205.14 L96.10,205.25 L97.10,205.36 L98.10,205.47 L99.10,205.57 L100.10,205.68 L101.10,205.77 L102.10,205.87 L103.10,205.97 L104.10,206.06 L105.10,206.15 L106.10,206.23 L107.10,206.32 L108.10,206.40 L109.10,206.47 L110.10,206.55 L111.10,206.62 L112.10,206.69 L113.10,206.75 L114.10,206.81 L115.10,206.87 L116.10,206.92 L117.10,206.97 L118.10,207.02 L119.10,207.07 L120.10,207.11 L121.10,207.14 L122.10,207.17 L123.10,207.20 L124.10,207.23 L125.10,207.25 L126.10,207.27 L127.10,207.28 L128.10,207.29 L129.10,207.29 L130.10,207.29 L131.10,207.28 L132.10,207.28 L133.10,207.26 L134.10,207.24 L135.10,207.22 L136.10,207.19 L137.10,207.16 L138.10,207.12 L139.10,207.08 L140.10,207.03 L141.10,206.98 L142.10,206.92 L143.10,206.86 L144.10,206.79 L145.10,206.72 L146.10,206.64 L147.10,206.56 L148.10,206.47 L149.10,206.37 L150.10,206.27 L151.10,206.16 L152.10,206.05 L153.10,205.93 L154.10,205.81 L155.10,205.68 L156.10,205.54 L157.10,205.40 L158.10,205.25 L159.10,205.10 L160.10,204.94 L161.10,204.77 L162.10,204.60 L163.10,204.42 L164.10,204.23 L165.10,204.04 L166.10,203.84 L167.10,203.63 L168.10,203.42 L169.10,203.20 L170.10,202.97 L171.10,202.74 L172.10,202.50 L173.10,202.25 L174.10,202.00 L175.10,201.73 L176.10,201.46 L177.10,201.19 L178.10,200.90 L179.10,200.61 L180.10,200.31 L181.10,200.00 L182.10,199.69 L183.10,199.36 L184.10,199.03 L185.10,198.70 L186.10,198.35 L187.10,198.00 L188.10,197.64 L189.10,197.27 L190.10,196.91 L191.10,196.53 L192.10,196.16 L193.10,195.78 L194.10,195.41 L195.10,195.03 L196.10,194.66 L197.10,194.29 L198.10,193.92 L199.10,193.55 L200.10,193.20 L201.10,192.84 L202.10,192.49 L203.10,192.15 L204.10,191.81 L205.10,191.47 L206.10,191.12 L207.10,190.77 L208.10,190.41 L209.10,190.03 L210.10,189.64 L211.10,189.23 L212.10,188.79 L213.10,188.34 L214.10,187.87 L215.10,187.38 L216.10,186.88 L217.10,186.36 L218.10,185.82 L219.10,185.28 L220.10,184.72 L221.10,184.15 L222.10,183.58 L223.10,183.00 L224.10,182.41 L225.10,181.82 L226.10,181.23 L227.10,180.64 L228.10,180.05 L229.10,179.45 L230.10,178.86 L231.10,178.28 L232.10,177.70 L233.10,177.13 L234.10,176.57 L235.10,176.02 L236.10,175.50 L237.10,174.98 L238.10,174.50 L239.10,174.03 L240.10,173.59 L241.10,173.19 L242.10,172.81 L243.10,172.46 L244.10,172.14 L245.10,171.86 L246.10,171.60 L247.10,171.36 L248.10,171.15 L249.10,170.96 L250.10,170.79 L251.10,170.64 L252.10,170.50 L253.10,170.37 L254.10,170.26 L255.10,170.14 L256.10,170.03 L257.10,169.93 L258.10,169.82 L259.10,169.71 L260.10,169.61 L261.10,169.51 L262.10,169.40 L263.10,169.30 L264.10,169.20 L265.10,169.09 L266.10,168.99 L267.10,168.89 L268.10,168.78 L269.10,168.68 L270.10,168.57 L271.10,168.46 L272.10,168.35 L273.10,168.24 L274.10,168.12 L275.10,168.00 L276.10,167.88 L277.10,167.76 L278.10,167.63 L279.10,167.50 L280.10,167.37 L281.10,167.23 L282.10,167.09 L283.10,166.94 L284.10,166.79 L285.10,166.63 L286.10,166.47 L287.10,166.31 L288.10,166.13 L289.10,165.96 L290.10,165.77 L291.10,165.58 L292.10,165.39 L293.10,165.18 L294.10,164.97 L295.10,164.76 L296.10,164.53 L297.10,164.30 L298.10,164.06 L299.10,163.82 L300.10,163.56 L301.10,163.31 L302.10,163.04 L303.10,162.77 L304.10,162.50 L305.10,162.22 L306.10,161.94 L307.10,161.66 L308.10,161.37 L309.10,161.07 L310.10,160.78 L311.10,160.48 L312.10,160.18 L313.10,159.87 L314.10,159.57 L315.10,159.26 L316.10,158.95 L317.10,158.64 L318.10,158.33 L319.10,158.02 L320.10,157.72 L321.10,157.41 L322.10,157.10 L323.10,156.79 L324.10,156.49 L325.10,156.18 L326.10,155.88 L327.10,155.58 L328.10,155.29 L329.10,154.99 L330.10,154.70 L331.10,154.42 L332.10,154.13 L333.10,153.86 L334.10,153.58 L335.10,153.31 L336.10,153.05 L337.10,152.79 L338.10,152.54 L339.10,152.30 L339.50,152.20 L340.50,153.09 L341.50,154.07 L342.50,155.11 L343.50,156.20 L344.50,157.31 L345.50,158.44 L346.50,159.55 L347.50,160.64 L348.50,161.69 L349.50,162.67 L350.50,163.58 L351.50,164.42 L352.50,165.19 L353.50,165.89 L354.50,166.53 L355.50,167.10 L356.50,167.61 L357.50,168.07 L358.50,168.47 L359.50,168.82 L360.50,169.11 L361.50,169.36 L362.50,169.56 L363.50,169.71 L364.50,169.83 L365.50,169.90 L366.50,169.94 L367.50,169.95 L368.50,169.92 L369.50,169.87 L370.50,169.79 L371.50,169.68 L372.50,169.56 L373.50,169.41 L374.50,169.25 L375.50,169.08 L376.50,168.90 L377.50,168.71 L378.50,168.52 L379.50,168.32 L380.50,168.12 L381.50,167.93 L382.50,167.73 L383.50,167.55 L384.50,167.38 L385.50,167.22 L386.50,167.08 L387.50,166.95 L388.50,166.84 L389.50,166.75 L390.50,166.68 L391.50,166.62 L392.50,166.58 L393.50,166.55 L394.50,166.53 L395.50,166.52 L396.50,166.52 L397.50,166.53 L398.50,166.55 L399.50,166.57 L400.50,166.60 L401.50,166.63 L402.50,166.67 L403.50,166.71 L404.50,166.75 L405.50,166.79 L406.50,166.83 L407.50,166.87 L408.50,166.90 L409.50,166.93 L410.50,166.95 L411.50,166.97 L412.50,166.98 L413.50,166.98 L414.50,166.97 L415.50,166.95 L416.50,166.92 L417.50,166.87 L418.50,166.82 L419.50,166.74 L420.50,166.65 L421.00,166.60" stroke="#1818f0" fill="none" stroke-width="1.85" stroke-linecap="round" stroke-dasharray="0.01 2.75"/>
<path d="M36.10,170.30 L37.10,170.31 L38.10,170.32 L39.10,170.34 L40.10,170.35 L41.10,170.36 L42.10,170.38 L43.10,170.39 L44.10,170.40 L45.10,170.42 L46.10,170.43 L47.10,170.45 L48.10,170.46 L49.10,170.48 L50.10,170.49 L51.10,170.51 L52.10,170.53 L53.10,170.54 L54.10,170.56 L55.10,170.58 L56.10,170.59 L57.10,170.61 L58.10,170.63 L59.10,170.65 L60.10,170.67 L61.10,170.69 L62.10,170.70 L63.10,170.72 L64.10,170.74 L65.10,170.76 L66.10,170.78 L67.10,170.80 L68.10,170.82 L69.10,170.84 L70.10,170.86 L71.10,170.88 L72.10,170.90 L73.10,170.92 L74.10,170.94 L75.10,170.97 L76.10,170.99 L77.10,171.01 L78.10,171.03 L79.10,171.05 L80.10,171.07 L81.10,171.09 L82.10,171.12 L83.10,171.14 L84.10,171.16 L85.10,171.18 L86.10,171.20 L87.10,171.23 L88.10,171.25 L89.10,171.27 L90.10,171.29 L91.10,171.32 L92.10,171.34 L93.10,171.36 L94.10,171.38 L95.10,171.40 L96.10,171.43 L97.10,171.45 L98.10,171.47 L99.10,171.49 L100.10,171.52 L101.10,171.54 L102.10,171.56 L103.10,171.58 L104.10,171.60 L105.10,171.63 L106.10,171.65 L107.10,171.67 L108.10,171.69 L109.10,171.71 L110.10,171.74 L111.10,171.76 L112.10,171.78 L113.10,171.80 L114.10,171.82 L115.10,171.84 L116.10,171.86 L117.10,171.89 L118.10,171.91 L119.10,171.93 L120.10,171.95 L121.10,171.97 L122.10,171.99 L123.10,172.01 L124.10,172.03 L125.10,172.05 L126.10,172.07 L127.10,172.09 L128.10,172.10 L129.10,172.12 L130.10,172.14 L131.10,172.16 L132.10,172.18 L133.10,172.20 L134.10,172.21 L135.10,172.23 L136.10,172.25 L137.10,172.27 L138.10,172.28 L139.10,172.30 L140.10,172.32 L141.10,172.33 L142.10,172.35 L143.10,172.36 L144.10,172.38 L145.10,172.39 L146.10,172.41 L147.10,172.42 L148.10,172.43 L149.10,172.45 L150.10,172.46 L151.10,172.47 L152.10,172.49 L153.10,172.50 L154.10,172.51 L155.10,172.52 L156.10,172.53 L157.10,172.54 L158.10,172.55 L159.10,172.56 L160.10,172.57 L161.10,172.58 L162.10,172.59 L163.10,172.60 L164.10,172.60 L165.10,172.61 L166.10,172.62 L167.10,172.62 L168.10,172.63 L169.10,172.64 L170.10,172.64 L171.10,172.64 L172.10,172.65 L173.10,172.65 L174.10,172.66 L175.10,172.66 L176.10,172.66 L177.10,172.66 L178.10,172.66 L179.10,172.66 L180.10,172.66 L181.10,172.66 L182.10,172.66 L183.10,172.66 L184.10,172.66 L185.10,172.65 L186.10,172.65 L187.10,172.65 L188.10,172.64 L189.10,172.64 L190.10,172.63 L191.10,172.63 L192.10,172.62 L193.10,172.61 L194.10,172.60 L195.10,172.60 L196.10,172.59 L197.10,172.58 L198.10,172.57 L199.10,172.55 L200.10,172.54 L201.10,172.53 L202.10,172.52 L203.10,172.50 L204.10,172.48 L205.10,172.46 L206.10,172.43 L207.10,172.40 L208.10,172.37 L209.10,172.33 L210.10,172.28 L211.10,172.22 L212.10,172.16 L213.10,172.09 L214.10,172.01 L215.10,171.92 L216.10,171.82 L217.10,171.70 L218.10,171.58 L219.10,171.44 L220.10,171.30 L221.10,171.13 L222.10,170.96 L223.10,170.77 L224.10,170.56 L225.10,170.34 L226.10,170.10 L227.10,169.84 L228.10,169.56 L229.10,169.27 L230.10,168.96 L231.10,168.62 L232.10,168.27 L233.10,167.89 L234.10,167.49 L235.10,167.07 L236.10,166.63 L237.10,166.16 L238.10,165.67 L239.10,165.16 L240.10,164.61 L241.10,164.05 L242.10,163.45 L243.10,162.84 L244.10,162.19 L245.10,161.52 L246.10,160.82 L247.10,160.10 L248.10,159.35 L249.10,158.57 L250.10,157.76 L251.10,156.92 L252.10,156.06 L253.10,155.17 L254.10,154.25 L255.10,153.30 L256.10,152.32 L257.10,151.30 L258.10,150.23 L259.10,149.10 L260.10,147.90 L261.10,146.62 L262.10,145.25 L263.10,143.78 L264.10,142.28 L265.10,140.80 L266.10,139.34 L267.10,137.92 L268.10,136.51 L269.10,135.12 L270.10,133.74 L271.10,132.35 L272.10,130.95 L273.10,129.53 L274.10,128.09 L275.10,126.62 L276.10,125.10 L277.10,123.54 L278.10,121.93 L279.10,120.26 L280.10,118.56 L281.10,116.81 L282.10,115.03 L283.10,113.21 L284.10,111.37 L285.10,109.51 L286.10,107.64 L287.10,105.74 L288.10,103.84 L289.10,101.94 L290.10,100.04 L291.10,98.14 L292.10,96.26 L293.10,94.38 L294.10,92.53 L295.10,90.70 L296.10,88.89 L297.10,87.12 L298.10,85.39 L299.10,83.69 L300.10,82.04 L301.10,80.43 L302.10,78.84 L303.10,77.27 L304.10,75.70 L305.10,74.11 L306.10,72.50 L307.10,70.85 L308.10,69.15 L309.10,67.43 L310.10,65.70 L311.10,63.98 L312.10,62.30 L313.10,60.65 L314.10,59.04 L315.10,57.47 L316.10,55.93 L317.10,54.43 L318.10,52.97 L319.10,51.56 L320.10,50.20 L321.10,48.89 L322.10,47.64 L323.10,46.46 L324.10,45.34 L325.10,44.31 L326.10,43.34 L327.10,42.46 L328.10,41.64 L329.10,40.89 L330.10,40.21 L331.10,39.59 L332.10,39.02 L333.10,38.51 L334.10,38.06 L335.10,37.65 L336.10,37.29 L337.10,36.97 L338.10,36.68 L339.10,36.44 L340.10,36.23 L341.10,36.08 L342.10,35.98 L343.10,35.95 L344.10,36.01 L345.10,36.15 L346.10,36.38 L347.10,36.72 L348.10,37.18 L349.10,37.77 L350.10,38.48 L351.10,39.34 L352.10,40.34 L353.10,41.48 L354.10,42.75 L355.10,44.15 L356.10,45.68 L357.10,47.33 L358.10,49.11 L359.10,50.99 L360.10,52.99 L361.10,55.10 L362.10,57.31 L363.10,59.62 L364.10,62.03 L365.10,64.53 L366.10,67.11 L367.10,69.76 L368.10,72.45 L369.10,75.14 L370.10,77.81 L371.10,80.45 L372.10,83.02 L373.10,85.56 L374.10,88.07 L375.10,90.59 L376.10,93.14 L377.10,95.74 L378.10,98.41 L379.10,101.18 L380.10,104.03 L381.10,106.93 L382.10,109.84 L383.10,112.71 L384.10,115.50 L385.10,118.16 L386.10,120.66 L387.10,123.02 L388.10,125.25 L389.10,127.37 L390.10,129.44 L391.10,131.49 L392.10,133.56 L393.10,135.68 L394.10,137.83 L395.10,139.99 L396.10,142.13 L397.10,144.23 L398.10,146.26 L399.10,148.23 L400.10,150.11 L401.10,151.89 L402.10,153.58 L403.10,155.15 L404.10,156.62 L405.10,157.98 L406.10,159.23 L407.10,160.38 L408.10,161.44 L409.10,162.39 L410.10,163.24 L411.10,163.99 L412.10,164.65 L413.10,165.22 L414.10,165.70 L415.10,166.08 L416.10,166.38 L417.10,166.59 L418.10,166.71 L419.10,166.75 L420.10,166.71 L421.00,166.60" stroke="#f41414" fill="none" stroke-width="1.85" stroke-linecap="round" stroke-dasharray="0.01 2.75"/>
<path d="M36.10,188.75 L37.10,188.92 L38.10,189.08 L39.10,189.25 L40.10,189.41 L41.10,189.57 L42.10,189.74 L43.10,189.90 L44.10,190.06 L45.10,190.22 L46.10,190.38 L47.10,190.54 L48.10,190.70 L49.10,190.86 L50.10,191.01 L51.10,191.17 L52.10,191.33 L53.10,191.48 L54.10,191.64 L55.10,191.79 L56.10,191.95 L57.10,192.10 L58.10,192.25 L59.10,192.40 L60.10,192.55 L61.10,192.71 L62.10,192.86 L63.10,193.01 L64.10,193.15 L65.10,193.30 L66.10,193.45 L67.10,193.60 L68.10,193.74 L69.10,193.89 L70.10,194.04 L71.10,194.18 L72.10,194.33 L73.10,194.47 L74.10,194.61 L75.10,194.76 L76.10,194.90 L77.10,195.04 L78.10,195.18 L79.10,195.32 L80.10,195.46 L81.10,195.60 L82.10,195.74 L83.10,195.88 L84.10,196.02 L85.10,196.16 L86.10,196.29 L87.10,196.43 L88.10,196.57 L89.10,196.70 L90.10,196.84 L91.10,196.97 L92.10,197.11 L93.10,197.24 L94.10,197.37 L95.10,197.51 L96.10,197.64 L97.10,197.77 L98.10,197.90 L99.10,198.03 L100.10,198.17 L101.10,198.30 L102.10,198.43 L103.10,198.56 L104.10,198.69 L105.10,198.81 L106.10,198.94 L107.10,199.07 L108.10,199.20 L109.10,199.33 L110.10,199.45 L111.10,199.58 L112.10,199.71 L113.10,199.83 L114.10,199.96 L115.10,200.08 L116.10,200.21 L117.10,200.33 L118.10,200.46 L119.10,200.58 L120.10,200.70 L121.10,200.83 L122.10,200.95 L123.10,201.07 L124.10,201.19 L125.10,201.31 L126.10,201.44 L127.10,201.56 L128.10,201.68 L129.10,201.80 L130.10,201.92 L131.10,202.04 L132.10,202.16 L133.10,202.28 L134.10,202.40 L135.10,202.52 L136.10,202.63 L137.10,202.75 L138.10,202.87 L139.10,202.99 L140.10,203.10 L141.10,203.22 L142.10,203.33 L143.10,203.44 L144.10,203.56 L145.10,203.66 L146.10,203.77 L147.10,203.88 L148.10,203.98 L149.10,204.08 L150.10,204.18 L151.10,204.28 L152.10,204.37 L153.10,204.46 L154.10,204.55 L155.10,204.63 L156.10,204.71 L157.10,204.79 L158.10,204.87 L159.10,204.94 L160.10,205.00 L161.10,205.07 L162.10,205.12 L163.10,205.18 L164.10,205.23 L165.10,205.27 L166.10,205.31 L167.10,205.34 L168.10,205.37 L169.10,205.40 L170.10,205.42 L171.10,205.43 L172.10,205.44 L173.10,205.44 L174.10,205.44 L175.10,205.43 L176.10,205.41 L177.10,205.39 L178.10,205.36 L179.10,205.32 L180.10,205.28 L181.10,205.23 L182.10,205.18 L183.10,205.11 L184.10,205.04 L185.10,204.97 L186.10,204.89 L187.10,204.80 L188.10,204.70 L189.10,204.60 L190.10,204.49 L191.10,204.37 L192.10,204.24 L193.10,204.11 L194.10,203.97 L195.10,203.82 L196.10,203.66 L197.10,203.50 L198.10,203.33 L199.10,203.15 L200.10,202.96 L201.10,202.77 L202.10,202.56 L203.10,202.35 L204.10,202.13 L205.10,201.90 L206.10,201.66 L207.10,201.42 L208.10,201.16 L209.10,200.90 L210.10,200.63 L211.10,200.35 L212.10,200.06 L213.10,199.76 L214.10,199.45 L215.10,199.13 L216.10,198.81 L217.10,198.47 L218.10,198.13 L219.10,197.77 L220.10,197.41 L221.10,197.03 L222.10,196.65 L223.10,196.26 L224.10,195.85 L225.10,195.44 L226.10,195.02 L227.10,194.59 L228.10,194.14 L229.10,193.69 L230.10,193.23 L231.10,192.76 L232.10,192.28 L233.10,191.79 L234.10,191.29 L235.10,190.78 L236.10,190.26 L237.10,189.74 L238.10,189.20 L239.10,188.66 L240.10,188.11 L241.10,187.55 L242.10,186.98 L243.10,186.40 L244.10,185.82 L245.10,185.23 L246.10,184.63 L247.10,184.03 L248.10,183.43 L249.10,182.83 L250.10,182.22 L251.10,181.62 L252.10,181.03 L253.10,180.44 L254.10,179.85 L255.10,179.28 L256.10,178.71 L257.10,178.16 L258.10,177.62 L259.10,177.10 L260.10,176.59 L261.10,176.09 L262.10,175.61 L263.10,175.13 L264.10,174.68 L265.10,174.23 L266.10,173.80 L267.10,173.37 L268.10,172.96 L269.10,172.56 L270.10,172.17 L271.10,171.79 L272.10,171.41 L273.10,171.05 L274.10,170.69 L275.10,170.35 L276.10,170.01 L277.10,169.67 L278.10,169.35 L279.10,169.03 L280.10,168.72 L281.10,168.41 L282.10,168.11 L283.10,167.81 L284.10,167.52 L285.10,167.23 L286.10,166.94 L287.10,166.66 L288.10,166.38 L289.10,166.10 L290.10,165.83 L291.10,165.55 L292.10,165.28 L293.10,165.01 L294.10,164.74 L295.10,164.46 L296.10,164.19 L297.10,163.92 L298.10,163.64 L299.10,163.37 L300.10,163.09 L301.10,162.81 L302.10,162.52 L303.10,162.24 L304.10,161.94 L305.10,161.65 L306.10,161.35 L307.10,161.04 L308.10,160.73 L309.10,160.42 L310.10,160.09 L311.10,159.76 L312.10,159.43 L313.10,159.08 L314.10,158.73 L315.10,158.37 L316.10,158.00 L317.10,157.63 L318.10,157.25 L319.10,156.86 L320.10,156.46 L321.10,156.06 L322.10,155.65 L323.10,155.24 L324.10,154.82 L325.10,154.39 L326.10,153.96 L327.10,153.52 L328.10,153.08 L329.10,152.63 L330.10,152.18 L331.10,151.72 L332.10,151.26 L333.10,150.79 L334.10,150.33 L335.10,149.87 L336.10,149.42 L337.10,148.98 L338.10,148.56 L339.10,148.16 L340.10,147.78 L341.10,147.43 L342.10,147.11 L343.10,146.84 L344.10,146.60 L345.10,146.42 L346.10,146.30 L347.10,146.25 L348.10,146.27 L349.10,146.36 L350.10,146.54 L351.10,146.82 L352.10,147.19 L353.10,147.67 L354.10,148.23 L355.10,148.88 L356.10,149.61 L357.10,150.40 L358.10,151.26 L359.10,152.16 L360.10,153.11 L361.10,154.10 L362.10,155.12 L363.10,156.15 L364.10,157.20 L365.10,158.25 L366.10,159.30 L367.10,160.34 L368.10,161.36 L369.10,162.35 L370.10,163.30 L371.10,164.22 L372.10,165.08 L373.10,165.88 L374.10,166.61 L375.10,167.27 L376.10,167.84 L377.10,168.32 L378.10,168.72 L379.10,169.03 L380.10,169.26 L381.10,169.42 L382.10,169.51 L383.10,169.55 L384.10,169.54 L385.10,169.48 L386.10,169.39 L387.10,169.26 L388.10,169.11 L389.10,168.94 L390.10,168.77 L391.10,168.58 L392.10,168.39 L393.10,168.21 L394.10,168.02 L395.10,167.84 L396.10,167.67 L397.10,167.51 L398.10,167.37 L399.10,167.23 L400.10,167.12 L401.10,167.01 L402.10,166.92 L403.10,166.84 L404.10,166.78 L405.10,166.72 L406.10,166.67 L407.10,166.63 L408.10,166.60 L409.10,166.58 L410.10,166.57 L411.10,166.56 L412.10,166.55 L413.10,166.55 L414.10,166.55 L415.10,166.56 L416.10,166.56 L417.10,166.57 L418.10,166.58 L419.10,166.59 L420.10,166.60 L421.00,166.60" stroke="#f41414" fill="none" stroke-width="1.85" stroke-linecap="round" stroke-dasharray="0.01 2.75"/>
<path d="M36.10,176.70 L37.10,176.74 L38.10,176.78 L39.10,176.82 L40.10,176.86 L41.10,176.90 L42.10,176.95 L43.10,176.99 L44.10,177.04 L45.10,177.08 L46.10,177.13 L47.10,177.18 L48.10,177.23 L49.10,177.28 L50.10,177.33 L51.10,177.38 L52.10,177.43 L53.10,177.49 L54.10,177.54 L55.10,177.59 L56.10,177.65 L57.10,177.70 L58.10,177.76 L59.10,177.82 L60.10,177.88 L61.10,177.93 L62.10,177.99 L63.10,178.05 L64.10,178.11 L65.10,178.17 L66.10,178.23 L67.10,178.29 L68.10,178.35 L69.10,178.42 L70.10,178.48 L71.10,178.54 L72.10,178.60 L73.10,178.67 L74.10,178.73 L75.10,178.79 L76.10,178.86 L77.10,178.92 L78.10,178.98 L79.10,179.05 L80.10,179.11 L81.10,179.18 L82.10,179.24 L83.10,179.31 L84.10,179.37 L85.10,179.43 L86.10,179.50 L87.10,179.56 L88.10,179.63 L89.10,179.69 L90.10,179.76 L91.10,179.82 L92.10,179.88 L93.10,179.95 L94.10,180.01 L95.10,180.07 L96.10,180.14 L97.10,180.20 L98.10,180.26 L99.10,180.32 L100.10,180.39 L101.10,180.45 L102.10,180.51 L103.10,180.57 L104.10,180.63 L105.10,180.69 L106.10,180.75 L107.10,180.80 L108.10,180.86 L109.10,180.92 L110.10,180.98 L111.10,181.03 L112.10,181.09 L113.10,181.14 L114.10,181.20 L115.10,181.25 L116.10,181.30 L117.10,181.36 L118.10,181.41 L119.10,181.46 L120.10,181.51 L121.10,181.56 L122.10,181.60 L123.10,181.65 L124.10,181.70 L125.10,181.74 L126.10,181.79 L127.10,181.83 L128.10,181.87 L129.10,181.91 L130.10,181.95 L131.10,181.99 L132.10,182.03 L133.10,182.07 L134.10,182.10 L135.10,182.14 L136.10,182.17 L137.10,182.20 L138.10,182.23 L139.10,182.26 L140.10,182.29 L141.10,182.32 L142.10,182.34 L143.10,182.37 L144.10,182.39 L145.10,182.41 L146.10,182.43 L147.10,182.45 L148.10,182.47 L149.10,182.48 L150.10,182.50 L151.10,182.51 L152.10,182.52 L153.10,182.53 L154.10,182.54 L155.10,182.55 L156.10,182.55 L157.10,182.55 L158.10,182.56 L159.10,182.55 L160.10,182.55 L161.10,182.55 L162.10,182.54 L163.10,182.54 L164.10,182.53 L165.10,182.51 L166.10,182.50 L167.10,182.49 L168.10,182.47 L169.10,182.45 L170.10,182.43 L171.10,182.41 L172.10,182.38 L173.10,182.35 L174.10,182.32 L175.10,182.29 L176.10,182.26 L177.10,182.22 L178.10,182.19 L179.10,182.15 L180.10,182.10 L181.10,182.06 L182.10,182.01 L183.10,181.96 L184.10,181.90 L185.10,181.85 L186.10,181.78 L187.10,181.71 L188.10,181.64 L189.10,181.56 L190.10,181.47 L191.10,181.38 L192.10,181.27 L193.10,181.17 L194.10,181.05 L195.10,180.93 L196.10,180.79 L197.10,180.65 L198.10,180.50 L199.10,180.34 L200.10,180.17 L201.10,179.98 L202.10,179.79 L203.10,179.59 L204.10,179.37 L205.10,179.14 L206.10,178.90 L207.10,178.64 L208.10,178.38 L209.10,178.10 L210.10,177.82 L211.10,177.53 L212.10,177.23 L213.10,176.92 L214.10,176.62 L215.10,176.31 L216.10,176.00 L217.10,175.69 L218.10,175.38 L219.10,175.08 L220.10,174.78 L221.10,174.48 L222.10,174.19 L223.10,173.89 L224.10,173.60 L225.10,173.31 L226.10,173.01 L227.10,172.72 L228.10,172.42 L229.10,172.12 L230.10,171.82 L231.10,171.52 L232.10,171.21 L233.10,170.90 L234.10,170.58 L235.10,170.25 L236.10,169.92 L237.10,169.58 L238.10,169.23 L239.10,168.88 L240.10,168.51 L241.10,168.13 L242.10,167.74 L243.10,167.35 L244.10,166.93 L245.10,166.51 L246.10,166.07 L247.10,165.62 L248.10,165.15 L249.10,164.67 L250.10,164.17 L251.10,163.66 L252.10,163.13 L253.10,162.58 L254.10,162.01 L255.10,161.42 L256.10,160.81 L257.10,160.18 L258.10,159.53 L259.10,158.86 L260.10,158.16 L261.10,157.45 L262.10,156.72 L263.10,155.97 L264.10,155.20 L265.10,154.42 L266.10,153.62 L267.10,152.81 L268.10,151.99 L269.10,151.15 L270.10,150.31 L271.10,149.45 L272.10,148.59 L273.10,147.72 L274.10,146.84 L275.10,145.95 L276.10,145.06 L277.10,144.17 L278.10,143.28 L279.10,142.38 L280.10,141.49 L281.10,140.59 L282.10,139.70 L283.10,138.80 L284.10,137.91 L285.10,137.02 L286.10,136.14 L287.10,135.26 L288.10,134.38 L289.10,133.50 L290.10,132.63 L291.10,131.77 L292.10,130.90 L293.10,130.05 L294.10,129.20 L295.10,128.35 L296.10,127.52 L297.10,126.69 L298.10,125.86 L299.10,125.05 L300.10,124.24 L301.10,123.44 L302.10,122.65 L303.10,121.86 L304.10,121.09 L305.10,120.33 L306.10,119.57 L307.10,118.83 L308.10,118.10 L309.10,117.38 L310.10,116.67 L311.10,115.97 L312.10,115.29 L313.10,114.62 L314.10,113.97 L315.10,113.35 L316.10,112.75 L317.10,112.18 L318.10,111.64 L319.10,111.13 L320.10,110.65 L321.10,110.21 L322.10,109.81 L323.10,109.46 L324.10,109.14 L325.10,108.88 L326.10,108.66 L327.10,108.50 L328.10,108.39 L329.10,108.34 L330.10,108.35 L331.10,108.42 L332.10,108.55 L333.10,108.74 L334.10,108.98 L335.10,109.29 L336.10,109.65 L337.10,110.07 L338.10,110.55 L339.10,111.08 L340.10,111.67 L341.10,112.31 L342.10,113.00 L343.10,113.75 L344.10,114.56 L345.10,115.41 L346.10,116.32 L347.10,117.27 L348.10,118.27 L349.10,119.32 L350.10,120.40 L351.10,121.53 L352.10,122.69 L353.10,123.88 L354.10,125.10 L355.10,126.36 L356.10,127.63 L357.10,128.94 L358.10,130.26 L359.10,131.60 L360.10,132.96 L361.10,134.32 L362.10,135.70 L363.10,137.07 L364.10,138.45 L365.10,139.83 L366.10,141.19 L367.10,142.55 L368.10,143.90 L369.10,145.22 L370.10,146.53 L371.10,147.81 L372.10,149.07 L373.10,150.29 L374.10,151.48 L375.10,152.63 L376.10,153.74 L377.10,154.81 L378.10,155.82 L379.10,156.79 L380.10,157.70 L381.10,158.55 L382.10,159.35 L383.10,160.09 L384.10,160.79 L385.10,161.44 L386.10,162.04 L387.10,162.60 L388.10,163.11 L389.10,163.58 L390.10,164.01 L391.10,164.40 L392.10,164.75 L393.10,165.07 L394.10,165.36 L395.10,165.61 L396.10,165.84 L397.10,166.03 L398.10,166.20 L399.10,166.35 L400.10,166.47 L401.10,166.56 L402.10,166.64 L403.10,166.70 L404.10,166.75 L405.10,166.78 L406.10,166.79 L407.10,166.80 L408.10,166.79 L409.10,166.78 L410.10,166.76 L411.10,166.73 L412.10,166.71 L413.10,166.68 L414.10,166.65 L415.10,166.62 L416.10,166.60 L417.10,166.58 L418.10,166.57 L419.10,166.57 L420.10,166.58 L421.00,166.60" stroke="#5656ff" fill="none" stroke-width="1.35"/>
<path d="M36.10,178.20 L37.10,178.25 L38.10,178.30 L39.10,178.36 L40.10,178.41 L41.10,178.47 L42.10,178.52 L43.10,178.58 L44.10,178.64 L45.10,178.70 L46.10,178.76 L47.10,178.83 L48.10,178.89 L49.10,178.96 L50.10,179.03 L51.10,179.09 L52.10,179.16 L53.10,179.23 L54.10,179.30 L55.10,179.38 L56.10,179.45 L57.10,179.52 L58.10,179.60 L59.10,179.67 L60.10,179.75 L61.10,179.83 L62.10,179.91 L63.10,179.99 L64.10,180.07 L65.10,180.15 L66.10,180.23 L67.10,180.31 L68.10,180.39 L69.10,180.48 L70.10,180.56 L71.10,180.65 L72.10,180.73 L73.10,180.82 L74.10,180.90 L75.10,180.99 L76.10,181.08 L77.10,181.16 L78.10,181.25 L79.10,181.34 L80.10,181.43 L81.10,181.52 L82.10,181.61 L83.10,181.70 L84.10,181.79 L85.10,181.88 L86.10,181.97 L87.10,182.06 L88.10,182.15 L89.10,182.24 L90.10,182.33 L91.10,182.42 L92.10,182.51 L93.10,182.60 L94.10,182.69 L95.10,182.78 L96.10,182.87 L97.10,182.96 L98.10,183.05 L99.10,183.14 L100.10,183.23 L101.10,183.32 L102.10,183.41 L103.10,183.50 L104.10,183.59 L105.10,183.68 L106.10,183.77 L107.10,183.85 L108.10,183.94 L109.10,184.03 L110.10,184.12 L111.10,184.20 L112.10,184.29 L113.10,184.37 L114.10,184.46 L115.10,184.54 L116.10,184.63 L117.10,184.71 L118.10,184.79 L119.10,184.87 L120.10,184.95 L121.10,185.03 L122.10,185.11 L123.10,185.19 L124.10,185.27 L125.10,185.35 L126.10,185.42 L127.10,185.50 L128.10,185.57 L129.10,185.65 L130.10,185.72 L131.10,185.79 L132.10,185.86 L133.10,185.93 L134.10,186.00 L135.10,186.07 L136.10,186.13 L137.10,186.20 L138.10,186.26 L139.10,186.32 L140.10,186.39 L141.10,186.45 L142.10,186.51 L143.10,186.56 L144.10,186.62 L145.10,186.67 L146.10,186.73 L147.10,186.78 L148.10,186.83 L149.10,186.88 L150.10,186.93 L151.10,186.97 L152.10,187.02 L153.10,187.06 L154.10,187.10 L155.10,187.14 L156.10,187.18 L157.10,187.22 L158.10,187.25 L159.10,187.29 L160.10,187.32 L161.10,187.35 L162.10,187.38 L163.10,187.40 L164.10,187.43 L165.10,187.45 L166.10,187.47 L167.10,187.49 L168.10,187.51 L169.10,187.52 L170.10,187.53 L171.10,187.54 L172.10,187.55 L173.10,187.56 L174.10,187.56 L175.10,187.57 L176.10,187.57 L177.10,187.56 L178.10,187.56 L179.10,187.55 L180.10,187.54 L181.10,187.53 L182.10,187.52 L183.10,187.50 L184.10,187.49 L185.10,187.46 L186.10,187.44 L187.10,187.42 L188.10,187.39 L189.10,187.36 L190.10,187.33 L191.10,187.29 L192.10,187.25 L193.10,187.21 L194.10,187.17 L195.10,187.12 L196.10,187.07 L197.10,187.02 L198.10,186.96 L199.10,186.90 L200.10,186.83 L201.10,186.77 L202.10,186.69 L203.10,186.61 L204.10,186.53 L205.10,186.44 L206.10,186.35 L207.10,186.25 L208.10,186.15 L209.10,186.04 L210.10,185.92 L211.10,185.80 L212.10,185.67 L213.10,185.54 L214.10,185.40 L215.10,185.25 L216.10,185.10 L217.10,184.94 L218.10,184.77 L219.10,184.59 L220.10,184.41 L221.10,184.21 L222.10,184.01 L223.10,183.81 L224.10,183.59 L225.10,183.36 L226.10,183.13 L227.10,182.89 L228.10,182.63 L229.10,182.37 L230.10,182.10 L231.10,181.82 L232.10,181.53 L233.10,181.23 L234.10,180.91 L235.10,180.59 L236.10,180.26 L237.10,179.92 L238.10,179.56 L239.10,179.20 L240.10,178.82 L241.10,178.43 L242.10,178.03 L243.10,177.62 L244.10,177.20 L245.10,176.76 L246.10,176.31 L247.10,175.85 L248.10,175.38 L249.10,174.90 L250.10,174.40 L251.10,173.89 L252.10,173.37 L253.10,172.83 L254.10,172.29 L255.10,171.72 L256.10,171.15 L257.10,170.56 L258.10,169.96 L259.10,169.34 L260.10,168.71 L261.10,168.07 L262.10,167.41 L263.10,166.74 L264.10,166.05 L265.10,165.35 L266.10,164.64 L267.10,163.91 L268.10,163.16 L269.10,162.40 L270.10,161.63 L271.10,160.84 L272.10,160.03 L273.10,159.21 L274.10,158.38 L275.10,157.53 L276.10,156.66 L277.10,155.79 L278.10,154.90 L279.10,153.99 L280.10,153.08 L281.10,152.14 L282.10,151.20 L283.10,150.24 L284.10,149.27 L285.10,148.29 L286.10,147.30 L287.10,146.29 L288.10,145.27 L289.10,144.24 L290.10,143.20 L291.10,142.14 L292.10,141.08 L293.10,140.00 L294.10,138.91 L295.10,137.81 L296.10,136.71 L297.10,135.58 L298.10,134.45 L299.10,133.29 L300.10,132.11 L301.10,130.91 L302.10,129.68 L303.10,128.41 L304.10,127.12 L305.10,125.78 L306.10,124.40 L307.10,122.99 L308.10,121.55 L309.10,120.08 L310.10,118.61 L311.10,117.14 L312.10,115.68 L313.10,114.23 L314.10,112.81 L315.10,111.43 L316.10,110.09 L317.10,108.81 L318.10,107.58 L319.10,106.40 L320.10,105.27 L321.10,104.20 L322.10,103.18 L323.10,102.20 L324.10,101.27 L325.10,100.39 L326.10,99.56 L327.10,98.77 L328.10,98.03 L329.10,97.33 L330.10,96.67 L331.10,96.05 L332.10,95.47 L333.10,94.93 L334.10,94.43 L335.10,93.96 L336.10,93.53 L337.10,93.14 L338.10,92.79 L339.10,92.49 L340.10,92.23 L341.10,92.02 L342.10,91.87 L343.10,91.77 L344.10,91.73 L345.10,91.74 L346.10,91.82 L347.10,91.97 L348.10,92.18 L349.10,92.47 L350.10,92.83 L351.10,93.26 L352.10,93.78 L353.10,94.37 L354.10,95.05 L355.10,95.81 L356.10,96.67 L357.10,97.61 L358.10,98.65 L359.10,99.79 L360.10,101.03 L361.10,102.37 L362.10,103.81 L363.10,105.36 L364.10,106.99 L365.10,108.68 L366.10,110.40 L367.10,112.14 L368.10,113.88 L369.10,115.58 L370.10,117.24 L371.10,118.89 L372.10,120.54 L373.10,122.22 L374.10,123.93 L375.10,125.71 L376.10,127.54 L377.10,129.43 L378.10,131.35 L379.10,133.29 L380.10,135.25 L381.10,137.21 L382.10,139.17 L383.10,141.10 L384.10,143.00 L385.10,144.86 L386.10,146.66 L387.10,148.40 L388.10,150.06 L389.10,151.64 L390.10,153.11 L391.10,154.49 L392.10,155.77 L393.10,156.95 L394.10,158.05 L395.10,159.06 L396.10,159.98 L397.10,160.83 L398.10,161.60 L399.10,162.30 L400.10,162.93 L401.10,163.50 L402.10,164.00 L403.10,164.45 L404.10,164.84 L405.10,165.18 L406.10,165.47 L407.10,165.72 L408.10,165.93 L409.10,166.11 L410.10,166.25 L411.10,166.35 L412.10,166.44 L413.10,166.50 L414.10,166.54 L415.10,166.57 L416.10,166.58 L417.10,166.59 L418.10,166.59 L419.10,166.59 L420.10,166.59 L421.00,166.60" stroke="#ff3030" fill="none" stroke-width="2.05"/>
<path d="M36.10,176.20 L37.10,176.24 L38.10,176.28 L39.10,176.32 L40.10,176.36 L41.10,176.40 L42.10,176.45 L43.10,176.49 L44.10,176.54 L45.10,176.59 L46.10,176.64 L47.10,176.69 L48.10,176.74 L49.10,176.79 L50.10,176.84 L51.10,176.89 L52.10,176.95 L53.10,177.00 L54.10,177.06 L55.10,177.11 L56.10,177.17 L57.10,177.23 L58.10,177.28 L59.10,177.34 L60.10,177.40 L61.10,177.46 L62.10,177.52 L63.10,177.59 L64.10,177.65 L65.10,177.71 L66.10,177.77 L67.10,177.84 L68.10,177.90 L69.10,177.97 L70.10,178.03 L71.10,178.10 L72.10,178.16 L73.10,178.23 L74.10,178.29 L75.10,178.36 L76.10,178.43 L77.10,178.49 L78.10,178.56 L79.10,178.63 L80.10,178.70 L81.10,178.76 L82.10,178.83 L83.10,178.90 L84.10,178.97 L85.10,179.04 L86.10,179.10 L87.10,179.17 L88.10,179.24 L89.10,179.31 L90.10,179.38 L91.10,179.45 L92.10,179.51 L93.10,179.58 L94.10,179.65 L95.10,179.72 L96.10,179.78 L97.10,179.85 L98.10,179.92 L99.10,179.98 L100.10,180.05 L101.10,180.11 L102.10,180.18 L103.10,180.25 L104.10,180.31 L105.10,180.37 L106.10,180.44 L107.10,180.50 L108.10,180.56 L109.10,180.63 L110.10,180.69 L111.10,180.75 L112.10,180.81 L113.10,180.87 L114.10,180.93 L115.10,180.99 L116.10,181.04 L117.10,181.10 L118.10,181.16 L119.10,181.21 L120.10,181.27 L121.10,181.32 L122.10,181.38 L123.10,181.43 L124.10,181.48 L125.10,181.53 L126.10,181.58 L127.10,181.63 L128.10,181.68 L129.10,181.72 L130.10,181.77 L131.10,181.81 L132.10,181.86 L133.10,181.90 L134.10,181.94 L135.10,181.98 L136.10,182.02 L137.10,182.06 L138.10,182.09 L139.10,182.13 L140.10,182.16 L141.10,182.20 L142.10,182.23 L143.10,182.26 L144.10,182.29 L145.10,182.31 L146.10,182.34 L147.10,182.37 L148.10,182.39 L149.10,182.41 L150.10,182.43 L151.10,182.45 L152.10,182.47 L153.10,182.48 L154.10,182.49 L155.10,182.51 L156.10,182.52 L157.10,182.53 L158.10,182.53 L159.10,182.54 L160.10,182.54 L161.10,182.54 L162.10,182.54 L163.10,182.54 L164.10,182.54 L165.10,182.53 L166.10,182.53 L167.10,182.52 L168.10,182.51 L169.10,182.49 L170.10,182.48 L171.10,182.46 L172.10,182.44 L173.10,182.42 L174.10,182.40 L175.10,182.37 L176.10,182.34 L177.10,182.31 L178.10,182.28 L179.10,182.25 L180.10,182.21 L181.10,182.17 L182.10,182.13 L183.10,182.09 L184.10,182.04 L185.10,181.99 L186.10,181.94 L187.10,181.88 L188.10,181.83 L189.10,181.76 L190.10,181.70 L191.10,181.63 L192.10,181.56 L193.10,181.48 L194.10,181.40 L195.10,181.32 L196.10,181.23 L197.10,181.14 L198.10,181.05 L199.10,180.95 L200.10,180.84 L201.10,180.73 L202.10,180.62 L203.10,180.50 L204.10,180.38 L205.10,180.25 L206.10,180.12 L207.10,179.98 L208.10,179.84 L209.10,179.69 L210.10,179.53 L211.10,179.37 L212.10,179.20 L213.10,179.03 L214.10,178.85 L215.10,178.67 L216.10,178.48 L217.10,178.28 L218.10,178.08 L219.10,177.87 L220.10,177.65 L221.10,177.43 L222.10,177.20 L223.10,176.97 L224.10,176.72 L225.10,176.47 L226.10,176.21 L227.10,175.95 L228.10,175.67 L229.10,175.39 L230.10,175.10 L231.10,174.81 L232.10,174.50 L233.10,174.19 L234.10,173.87 L235.10,173.54 L236.10,173.21 L237.10,172.87 L238.10,172.52 L239.10,172.17 L240.10,171.81 L241.10,171.44 L242.10,171.07 L243.10,170.69 L244.10,170.30 L245.10,169.91 L246.10,169.52 L247.10,169.12 L248.10,168.71 L249.10,168.30 L250.10,167.89 L251.10,167.47 L252.10,167.05 L253.10,166.61 L254.10,166.17 L255.10,165.72 L256.10,165.26 L257.10,164.79 L258.10,164.31 L259.10,163.81 L260.10,163.30 L261.10,162.77 L262.10,162.23 L263.10,161.67 L264.10,161.10 L265.10,160.50 L266.10,159.90 L267.10,159.28 L268.10,158.65 L269.10,158.00 L270.10,157.34 L271.10,156.68 L272.10,156.00 L273.10,155.31 L274.10,154.61 L275.10,153.90 L276.10,153.19 L277.10,152.46 L278.10,151.73 L279.10,151.00 L280.10,150.26 L281.10,149.51 L282.10,148.77 L283.10,148.01 L284.10,147.26 L285.10,146.50 L286.10,145.75 L287.10,144.99 L288.10,144.23 L289.10,143.47 L290.10,142.71 L291.10,141.95 L292.10,141.18 L293.10,140.41 L294.10,139.64 L295.10,138.86 L296.10,138.07 L297.10,137.28 L298.10,136.48 L299.10,135.67 L300.10,134.85 L301.10,134.02 L302.10,133.18 L303.10,132.33 L304.10,131.47 L305.10,130.60 L306.10,129.71 L307.10,128.81 L308.10,127.89 L309.10,126.96 L310.10,126.02 L311.10,125.06 L312.10,124.09 L313.10,123.10 L314.10,122.09 L315.10,121.08 L316.10,120.06 L317.10,119.05 L318.10,118.05 L319.10,117.09 L320.10,116.18 L321.10,115.32 L322.10,114.52 L323.10,113.77 L324.10,113.07 L325.10,112.43 L326.10,111.83 L327.10,111.29 L328.10,110.80 L329.10,110.36 L330.10,109.97 L331.10,109.62 L332.10,109.32 L333.10,109.07 L334.10,108.86 L335.10,108.69 L336.10,108.57 L337.10,108.49 L338.10,108.46 L339.10,108.47 L340.10,108.53 L341.10,108.64 L342.10,108.80 L343.10,109.02 L344.10,109.28 L345.10,109.61 L346.10,109.99 L347.10,110.43 L348.10,110.94 L349.10,111.51 L350.10,112.14 L351.10,112.83 L352.10,113.60 L353.10,114.42 L354.10,115.30 L355.10,116.24 L356.10,117.23 L357.10,118.28 L358.10,119.38 L359.10,120.53 L360.10,121.72 L361.10,122.96 L362.10,124.25 L363.10,125.58 L364.10,126.94 L365.10,128.35 L366.10,129.79 L367.10,131.25 L368.10,132.75 L369.10,134.26 L370.10,135.78 L371.10,137.31 L372.10,138.84 L373.10,140.37 L374.10,141.90 L375.10,143.40 L376.10,144.89 L377.10,146.36 L378.10,147.79 L379.10,149.19 L380.10,150.55 L381.10,151.86 L382.10,153.12 L383.10,154.33 L384.10,155.47 L385.10,156.54 L386.10,157.55 L387.10,158.47 L388.10,159.33 L389.10,160.12 L390.10,160.85 L391.10,161.51 L392.10,162.11 L393.10,162.65 L394.10,163.14 L395.10,163.58 L396.10,163.98 L397.10,164.32 L398.10,164.63 L399.10,164.89 L400.10,165.12 L401.10,165.32 L402.10,165.48 L403.10,165.62 L404.10,165.73 L405.10,165.82 L406.10,165.89 L407.10,165.95 L408.10,165.99 L409.10,166.02 L410.10,166.04 L411.10,166.06 L412.10,166.08 L413.10,166.09 L414.10,166.11 L415.10,166.14 L416.10,166.18 L417.10,166.23 L418.10,166.30 L419.10,166.38 L420.10,166.49 L421.00,166.60" stroke="#2ccc70" fill="none" stroke-width="1.75"/>
<line x1="190" x2="221.6" y1="40.65" y2="40.65" stroke="#5656ff" stroke-width="1.35"/>
<line x1="190" x2="221.6" y1="58.95" y2="58.95" stroke="#ff3030" stroke-width="2.05"/>
<line x1="190" x2="221.6" y1="76.95" y2="76.95" stroke="#2ccc70" stroke-width="1.75"/>
<defs><filter id="idf" x="0" y="0" width="420" height="273" filterUnits="userSpaceOnUse" color-interpolation-filters="sRGB"><feOffset dx="0" dy="0"/></filter></defs>
<g filter="url(#idf)">
<text x="4.40" y="24.30" text-anchor="start" textLength="24.00" lengthAdjust="spacingAndGlyphs" >0.02</text>
<text x="4.40" y="96.90" text-anchor="start" textLength="23.60" lengthAdjust="spacingAndGlyphs" >0.01</text>
<text x="21.70" y="169.80" text-anchor="start" textLength="7.20" lengthAdjust="spacingAndGlyphs" >0</text>
<text x="0.00" y="242.80" text-anchor="start" textLength="28.00" lengthAdjust="spacingAndGlyphs" >-0.01</text>
<text x="22.30" y="255.00" text-anchor="start" textLength="31.00" lengthAdjust="spacingAndGlyphs" >1e-05</text>
<text x="96.60" y="255.00" text-anchor="start" textLength="37.50" lengthAdjust="spacingAndGlyphs" >0.0001</text>
<text x="177.90" y="255.00" text-anchor="start" textLength="31.20" lengthAdjust="spacingAndGlyphs" >0.001</text>
<text x="259.60" y="255.00" text-anchor="start" textLength="23.30" lengthAdjust="spacingAndGlyphs" >0.01</text>
<text x="340.90" y="255.00" text-anchor="start" textLength="17.00" lengthAdjust="spacingAndGlyphs" >0.1</text>
<text x="223.00" y="272.80" text-anchor="start" textLength="7.60" lengthAdjust="spacingAndGlyphs" font-style="italic">x</text>
<text x="126.30" y="43.50" text-anchor="start" textLength="57.30" lengthAdjust="spacingAndGlyphs" style="font-size:13.6px">MSTW08</text>
<text x="125.40" y="61.50" text-anchor="start" textLength="58.20" lengthAdjust="spacingAndGlyphs" style="font-size:13.6px">MMHT14</text>
<text x="63.30" y="79.80" text-anchor="start" textLength="57.30" lengthAdjust="spacingAndGlyphs" style="font-size:13.6px">MMHT14</text>
<text x="126.50" y="79.80" text-anchor="start" textLength="18.80" lengthAdjust="spacingAndGlyphs" style="font-size:13.6px">(no</text>
<text x="150.80" y="79.80" text-anchor="start" textLength="32.40" lengthAdjust="spacingAndGlyphs" style="font-size:13.6px">LHC)</text>
<text x="35.60" y="12.90" text-anchor="start" textLength="7.20" lengthAdjust="spacingAndGlyphs" font-style="italic">x</text>
<text x="43.40" y="12.90" text-anchor="start" textLength="3.80" lengthAdjust="spacingAndGlyphs" >(</text>
<text x="48.60" y="12.90" text-anchor="start" textLength="5.20" lengthAdjust="spacingAndGlyphs" font-style="italic">s</text>
<text x="58.60" y="12.90" text-anchor="start" textLength="8.80" lengthAdjust="spacingAndGlyphs" >−</text>
<text x="71.60" y="12.90" text-anchor="start" textLength="5.80" lengthAdjust="spacingAndGlyphs" font-style="italic">s</text>
<line x1="71.6" x2="77.4" y1="4.8" y2="4.8" stroke="#222" stroke-width="0.7"/>
<text x="78.60" y="12.90" text-anchor="start" textLength="3.80" lengthAdjust="spacingAndGlyphs" >)</text>
<text x="88.30" y="12.90" text-anchor="start" textLength="3.80" lengthAdjust="spacingAndGlyphs" >(</text>
<text x="92.70" y="12.90" text-anchor="start" textLength="29.40" lengthAdjust="spacingAndGlyphs" >NLO</text>
<text x="122.80" y="12.90" text-anchor="start" textLength="3.80" lengthAdjust="spacingAndGlyphs" >)</text>
<text x="127.60" y="12.90" text-anchor="start" textLength="3.40" lengthAdjust="spacingAndGlyphs" >,</text>
<text x="136.20" y="12.90" text-anchor="start" textLength="10.40" lengthAdjust="spacingAndGlyphs" font-style="italic">Q</text>
<text x="147.00" y="6.60" text-anchor="start" textLength="4.60" lengthAdjust="spacingAndGlyphs" style="font-size:10px">2</text>
<text x="156.80" y="12.90" text-anchor="start" textLength="10.00" lengthAdjust="spacingAndGlyphs" >=</text>
<text x="170.90" y="12.90" text-anchor="start" textLength="12.60" lengthAdjust="spacingAndGlyphs" >10</text>
<text x="184.40" y="6.40" text-anchor="start" textLength="5.00" lengthAdjust="spacingAndGlyphs" style="font-size:10px">4</text>
<text x="192.80" y="12.90" text-anchor="start" textLength="26.00" lengthAdjust="spacingAndGlyphs" >GeV</text>
<text x="219.80" y="6.30" text-anchor="start" textLength="4.80" lengthAdjust="spacingAndGlyphs" style="font-size:10px">2</text>
</g>
</svg>
</body></html>
